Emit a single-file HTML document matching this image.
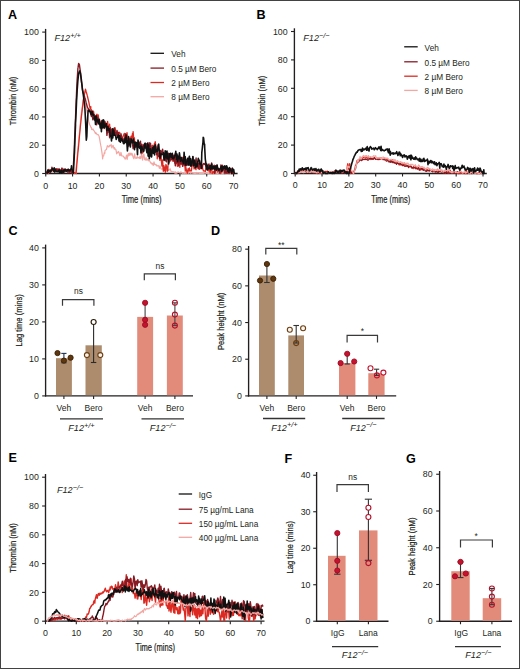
<!DOCTYPE html>
<html><head><meta charset="utf-8"><style>
html,body{margin:0;padding:0;background:#fff;}
body{width:520px;height:669px;overflow:hidden;font-family:"Liberation Sans", sans-serif;}
svg{display:block;}
</style></head><body>
<svg width="520" height="669" viewBox="0 0 520 669" font-family='"Liberation Sans", sans-serif'>
<rect x="0" y="0" width="520" height="669" fill="#fff"/>
<text x="8.0" y="18.6" font-size="12.6" text-anchor="start" font-weight="bold" font-style="normal" fill="#000" >A</text>
<line x1="45.6" y1="28.900000000000002" x2="45.6" y2="174.1" stroke="#231f20" stroke-width="1.35"/>
<line x1="42.2" y1="173.5" x2="45.6" y2="173.5" stroke="#231f20" stroke-width="1.1"/>
<text x="38.8" y="176.7" font-size="8.8" text-anchor="end" font-weight="normal" font-style="normal" fill="#231f20" >0</text>
<line x1="42.2" y1="145.22" x2="45.6" y2="145.22" stroke="#231f20" stroke-width="1.1"/>
<text x="38.8" y="148.42" font-size="8.8" text-anchor="end" font-weight="normal" font-style="normal" fill="#231f20" >20</text>
<line x1="42.2" y1="116.94" x2="45.6" y2="116.94" stroke="#231f20" stroke-width="1.1"/>
<text x="38.8" y="120.14" font-size="8.8" text-anchor="end" font-weight="normal" font-style="normal" fill="#231f20" >40</text>
<line x1="42.2" y1="88.66000000000001" x2="45.6" y2="88.66000000000001" stroke="#231f20" stroke-width="1.1"/>
<text x="38.8" y="91.86000000000001" font-size="8.8" text-anchor="end" font-weight="normal" font-style="normal" fill="#231f20" >60</text>
<line x1="42.2" y1="60.38000000000001" x2="45.6" y2="60.38000000000001" stroke="#231f20" stroke-width="1.1"/>
<text x="38.8" y="63.58000000000001" font-size="8.8" text-anchor="end" font-weight="normal" font-style="normal" fill="#231f20" >80</text>
<line x1="42.2" y1="32.099999999999994" x2="45.6" y2="32.099999999999994" stroke="#231f20" stroke-width="1.1"/>
<text x="38.8" y="35.3" font-size="8.8" text-anchor="end" font-weight="normal" font-style="normal" fill="#231f20" >100</text>
<line x1="45.0" y1="173.5" x2="237.6" y2="173.5" stroke="#231f20" stroke-width="1.3"/>
<line x1="45.75" y1="173.5" x2="45.75" y2="176.5" stroke="#231f20" stroke-width="1.1"/>
<text x="45.75" y="188.6" font-size="8.8" text-anchor="middle" font-weight="normal" font-style="normal" fill="#231f20" >0</text>
<line x1="72.58" y1="173.5" x2="72.58" y2="176.5" stroke="#231f20" stroke-width="1.1"/>
<text x="72.58" y="188.6" font-size="8.8" text-anchor="middle" font-weight="normal" font-style="normal" fill="#231f20" >10</text>
<line x1="99.41" y1="173.5" x2="99.41" y2="176.5" stroke="#231f20" stroke-width="1.1"/>
<text x="99.41" y="188.6" font-size="8.8" text-anchor="middle" font-weight="normal" font-style="normal" fill="#231f20" >20</text>
<line x1="126.24" y1="173.5" x2="126.24" y2="176.5" stroke="#231f20" stroke-width="1.1"/>
<text x="126.24" y="188.6" font-size="8.8" text-anchor="middle" font-weight="normal" font-style="normal" fill="#231f20" >30</text>
<line x1="153.07" y1="173.5" x2="153.07" y2="176.5" stroke="#231f20" stroke-width="1.1"/>
<text x="153.07" y="188.6" font-size="8.8" text-anchor="middle" font-weight="normal" font-style="normal" fill="#231f20" >40</text>
<line x1="179.89999999999998" y1="173.5" x2="179.89999999999998" y2="176.5" stroke="#231f20" stroke-width="1.1"/>
<text x="179.89999999999998" y="188.6" font-size="8.8" text-anchor="middle" font-weight="normal" font-style="normal" fill="#231f20" >50</text>
<line x1="206.73" y1="173.5" x2="206.73" y2="176.5" stroke="#231f20" stroke-width="1.1"/>
<text x="206.73" y="188.6" font-size="8.8" text-anchor="middle" font-weight="normal" font-style="normal" fill="#231f20" >60</text>
<line x1="233.56" y1="173.5" x2="233.56" y2="176.5" stroke="#231f20" stroke-width="1.1"/>
<text x="233.56" y="188.6" font-size="8.8" text-anchor="middle" font-weight="normal" font-style="normal" fill="#231f20" >70</text>
<text x="141.6" y="202.6" font-size="10.3" text-anchor="middle" textLength="39.8" lengthAdjust="spacingAndGlyphs" fill="#231f20" stroke="#231f20" stroke-width="0.22">Time (mins)</text>
<text transform="translate(15.9,101.0) rotate(-90)" x="0" y="0" font-size="9.60" text-anchor="middle" textLength="48.6" lengthAdjust="spacingAndGlyphs" fill="#231f20" stroke="#231f20" stroke-width="0.22">Thrombin (nM)</text>
<text x="54.5" y="41.3" font-size="9.1" font-style="italic" text-anchor="start" fill="#231f20">F12<tspan font-size="7.4" dy="-3.2">+/+</tspan></text>
<line x1="150.5" y1="53.3" x2="164" y2="53.3" stroke="#111111" stroke-width="1.3"/>
<text x="171.3" y="57.0" font-size="8.25" text-anchor="start" font-weight="normal" font-style="normal" fill="#231f20" >Veh</text>
<line x1="150.5" y1="68.1" x2="164" y2="68.1" stroke="#861b24" stroke-width="1.3"/>
<text x="171.3" y="71.8" font-size="8.25" text-anchor="start" font-weight="normal" font-style="normal" fill="#231f20" >0.5 µM Bero</text>
<line x1="150.5" y1="82.5" x2="164" y2="82.5" stroke="#dc2a22" stroke-width="1.3"/>
<text x="171.3" y="86.2" font-size="8.25" text-anchor="start" font-weight="normal" font-style="normal" fill="#231f20" >2 µM Bero</text>
<line x1="150.5" y1="96.7" x2="164" y2="96.7" stroke="#f3a7a3" stroke-width="1.3"/>
<text x="171.3" y="100.4" font-size="8.25" text-anchor="start" font-weight="normal" font-style="normal" fill="#231f20" >8 µM Bero</text>
<polyline points="46.6,173.5 47.2,171.2 47.9,170.6 48.4,171.9 48.6,171.7 49.2,171.7 49.9,170.4 50.6,170.9 51.3,169.9 51.9,172.4 52.6,168.7 53.3,170.2 53.8,169.3 53.9,170.1 54.6,170.4 55.3,169.6 55.9,169.3 56.6,170.4 57.3,170.4 58.0,169.7 58.6,171.2 59.3,171.9 60.0,170.1 60.6,171.2 61.3,172.4 61.8,171.4 62.0,171.1 62.7,171.7 63.3,172.0 64.0,170.6 64.7,169.9 65.3,170.9 66.0,171.3 66.7,170.4 67.3,170.1 68.0,170.9 68.7,170.2 69.4,169.8 69.9,170.8 70.0,171.4 70.7,170.8 71.4,171.3 72.0,171.0 72.7,173.1 73.4,173.0 73.9,173.4 74.1,173.5 74.7,172.9 75.4,172.9 76.1,173.5 76.3,172.5" fill="none" stroke="#f3a7a3" stroke-width="1.2" stroke-linejoin="round" opacity="1.0"/>
<polyline points="75.5,173.5 76.2,166.4 76.9,159.4 77.5,152.3 78.2,145.2 78.5,142.4 78.9,138.2 79.6,131.0 80.2,124.0 80.9,116.9 81.2,114.1 81.6,111.3 82.2,107.0 82.9,102.3 83.0,101.5 83.6,99.1 84.1,97.1 84.3,97.9 84.9,101.6 85.6,105.0 85.7,105.6 86.3,108.4 86.9,111.0 87.6,114.4 88.3,119.1 88.9,122.3 89.5,124.1 89.6,124.5 90.3,125.8 91.0,127.4 91.4,127.4 91.6,129.4 92.3,129.7 93.0,128.9 93.6,130.4 94.3,131.0 95.0,132.5 95.4,133.6 95.7,132.6 96.3,133.1 97.0,134.6 97.7,134.7 98.3,134.7 98.9,135.8 99.0,135.8 99.7,139.3 100.3,143.0 100.8,145.7 101.0,146.5 101.7,150.8 102.4,155.9 102.6,158.9 103.0,156.3 103.7,155.7 104.4,152.5 104.8,153.4 105.0,150.7 105.7,149.9 106.4,149.5 107.1,146.8 107.2,146.0 107.7,145.6 108.4,146.9 109.1,146.9 109.7,145.3 110.4,145.9 110.9,144.9 111.1,144.4 111.8,148.0 112.4,146.2 113.1,145.5 113.8,148.1 114.2,149.1 114.4,147.5 115.1,149.1 115.8,149.3 116.4,152.0 116.6,153.8 117.1,152.1 117.8,152.9 118.5,151.5 119.1,152.6 119.8,155.6 120.5,155.3 120.9,152.4 121.1,153.0 121.8,156.0 122.5,156.0 123.2,156.2 123.8,157.1 124.5,157.4 124.9,158.9 125.2,159.1 125.8,158.3 126.5,155.0 127.2,159.5 127.8,154.9 128.5,153.6 128.7,155.8 129.2,153.2 129.9,155.2 130.5,153.1 131.2,155.1 131.6,154.0 131.9,153.2 132.5,155.0 133.2,157.4 133.9,158.8 134.6,153.8 135.2,157.2 135.9,158.5 136.6,157.5 137.0,158.3 137.2,156.5 137.9,157.6 138.6,157.5 139.3,158.5 139.9,156.4 140.6,158.6 141.3,155.8 141.9,154.2 142.3,158.9 142.6,160.2 143.3,156.1 143.9,154.0 144.6,159.4 145.3,160.1 146.0,157.6 146.6,160.2 147.3,160.1 147.4,159.9 148.0,158.9 148.6,160.9 149.3,160.3 150.0,161.5 150.7,163.1 151.3,162.8 152.0,164.2 152.7,163.3 153.1,165.3 153.3,165.4 154.0,161.9 154.7,164.5 155.4,164.8 156.0,164.3 156.7,166.0 157.4,166.0 158.0,165.4 158.7,165.9 159.4,168.4 160.0,165.8 160.7,168.2 161.4,169.1 162.1,169.2 162.7,168.8 163.4,166.2 164.1,170.5 164.7,168.9 165.4,172.5 166.1,169.8 166.5,168.7 166.8,170.4 167.4,171.1 168.1,170.1 168.8,169.7 169.4,170.0 170.1,168.7 170.8,170.9 171.4,172.0 172.1,171.7 172.8,171.8 173.5,171.8 174.1,172.1 174.8,172.2 175.1,173.5 175.5,171.8 176.1,172.8 176.8,173.3 177.5,172.2 178.2,171.9 178.8,172.4 179.5,172.6 180.2,173.1 180.8,171.8 181.5,172.4 182.2,173.3 182.9,173.2 183.5,172.9 184.2,173.5 184.9,173.0 185.3,173.3 185.5,172.6 186.2,172.7 186.9,173.5 187.5,173.1 188.2,173.5 188.9,172.6 189.6,173.0 190.2,172.9 190.9,173.5 191.6,172.4 192.2,172.3 192.9,173.5 193.6,173.0 194.3,173.4 194.9,173.1 195.6,173.5 196.3,172.4 196.9,173.5 197.6,173.2 198.3,172.9 198.9,173.4 199.6,173.2 200.3,173.3 201.0,173.2 201.6,173.5 202.3,173.3 203.0,173.2 203.6,173.3 204.3,173.1 205.0,173.2 205.7,172.9 206.3,173.3 207.0,173.2 207.7,173.4 208.3,173.3 209.0,173.5 209.7,173.0 210.4,173.5 211.0,173.4 211.7,173.0 212.4,173.0 213.0,173.3 213.7,173.5 214.4,173.0 215.0,173.1 215.7,173.5 216.4,172.9 217.1,173.4 217.7,173.5 218.4,173.1 219.1,173.2 219.7,173.1 220.4,173.5 221.1,172.6 221.8,173.4 222.4,173.5 223.1,173.0 223.8,173.3 224.4,173.1 225.1,173.3 225.8,173.2 226.5,173.1 227.1,173.4 227.8,173.0 228.5,173.3 229.1,173.5 229.8,173.2 230.5,173.1 231.1,173.3 231.8,173.5 232.5,173.0 233.2,173.5 233.6,173.5" fill="none" stroke="#f3a7a3" stroke-width="1.2" stroke-linejoin="round" opacity="1.0"/>
<polyline points="46.6,173.3 47.2,173.3 47.9,172.5 48.4,173.5 48.6,169.3 49.2,169.9 49.9,171.4 50.6,169.9 51.3,170.3 51.9,171.1 52.6,169.2 53.3,170.5 53.9,170.3 54.6,170.6 55.3,169.1 55.9,169.5 56.5,168.6 56.6,170.0 57.3,169.3 58.0,170.7 58.6,168.9 59.3,169.8 60.0,169.8 60.6,169.9 61.3,171.7 61.8,169.8 62.0,168.3 62.7,172.5 63.3,172.6 64.0,172.4 64.7,169.7 65.3,170.5 66.0,169.5 66.7,169.9 67.3,170.4 68.0,170.4 68.7,170.9 69.4,169.7 69.9,171.9 70.0,171.2 70.7,170.8 71.4,169.4 72.0,172.7 72.7,173.3 73.4,173.0 73.9,172.2 74.1,173.0 74.7,172.8 75.4,173.3 76.1,173.5 76.1,173.5 76.7,165.9 77.4,158.3 77.9,152.3 78.1,150.9 78.8,143.8 79.4,136.7 80.1,129.7 80.6,124.0 80.8,122.8 81.4,116.8 82.1,110.8 82.8,104.8 83.3,100.0 83.4,99.3 84.1,95.9 84.8,92.5 85.5,89.1 85.5,89.1 86.1,91.5 86.8,93.8 87.3,95.7 87.5,96.3 88.1,99.1 88.8,101.8 89.5,105.6 90.2,108.6 90.8,106.6 90.8,109.4 91.5,109.9 92.2,112.5 92.8,114.4 93.5,111.2 94.0,114.4 94.2,116.2 94.8,115.3 95.5,118.0 96.2,115.9 96.9,114.2 97.5,120.0 98.2,114.8 98.9,120.9 99.5,119.5 100.2,122.8 100.9,121.9 101.6,121.9 102.1,123.7 102.2,124.6 102.9,125.1 103.6,126.1 104.2,128.7 104.9,125.8 105.6,124.6 106.3,123.8 106.9,125.1 107.6,121.5 108.3,127.2 108.9,129.8 109.6,124.1 110.1,132.5 110.3,127.1 110.9,132.7 111.6,129.5 112.3,136.2 113.0,128.7 113.6,131.9 114.3,134.5 115.0,127.6 115.6,130.4 116.3,132.8 117.0,135.3 117.7,133.7 118.3,134.4 119.0,132.3 119.7,132.4 120.3,136.9 120.9,136.9 121.0,136.9 121.7,139.6 122.3,137.8 123.0,136.7 123.7,134.8 124.4,133.4 125.0,139.8 125.7,136.3 126.4,139.5 127.0,132.6 127.7,139.1 128.4,137.8 128.9,142.3 129.1,141.8 129.7,138.1 130.4,139.0 131.1,136.1 131.7,140.9 132.4,133.7 132.7,138.0 133.1,131.6 133.8,139.7 134.4,137.8 134.8,146.5 135.1,141.3 135.8,145.5 136.4,144.7 137.1,143.6 137.8,145.0 138.4,143.7 139.1,142.6 139.8,143.2 140.5,145.8 141.1,150.0 141.8,148.8 142.3,147.2 142.5,153.1 143.1,144.6 143.8,147.7 144.5,148.0 145.2,144.5 145.8,145.5 146.5,147.1 147.2,151.0 147.7,147.1 147.8,147.0 148.5,151.0 149.2,145.4 149.9,147.2 150.5,155.1 151.2,148.9 151.7,153.4 151.9,145.7 152.5,145.3 153.2,149.8 153.9,147.7 154.4,143.5 154.5,145.0 155.2,141.6 155.9,146.2 156.6,151.5 157.1,150.5 157.2,158.8 157.9,153.0 158.6,152.8 159.2,157.4 159.9,160.4 160.6,157.9 161.1,154.8 161.3,160.5 161.9,166.0 162.6,159.8 163.3,171.3 163.9,165.7 164.6,170.5 165.1,167.2 165.3,172.3 165.9,164.5 166.6,166.4 167.3,171.1 167.8,170.8 168.0,165.7 168.6,159.8 169.3,162.1 170.0,161.0 170.6,160.8 171.3,156.7 171.9,156.8 172.0,157.2 172.7,161.2 173.3,155.3 174.0,155.1 174.7,163.2 175.3,153.5 176.0,158.1 176.7,161.9 177.4,166.3 178.0,159.3 178.7,160.0 179.4,163.6 179.9,167.3 180.0,159.1 180.7,164.3 181.4,164.3 182.0,157.2 182.7,157.7 183.4,161.4 184.1,165.6 184.7,162.9 185.3,171.1 185.4,165.0 186.1,168.6 186.7,171.2 187.4,173.3 188.1,168.7 188.8,171.1 188.8,170.9 189.4,167.8 190.1,171.0 190.8,170.7 191.4,170.8 192.0,165.9 192.1,163.0 192.8,165.7 193.4,163.8 194.1,168.9 194.8,167.2 195.5,168.3 196.0,169.7 196.1,161.5 196.8,164.0 197.5,168.1 198.1,167.9 198.8,166.0 199.5,169.4 200.2,164.4 200.8,168.7 201.5,166.2 202.2,167.7 202.4,166.2 202.8,169.1 203.5,171.0 204.2,170.8 204.9,171.3 205.4,171.4 205.5,170.5 206.2,166.6 206.9,168.1 207.5,170.5 208.2,167.9 208.9,171.1 209.4,165.7 209.5,168.0 210.2,172.8 210.9,167.8 211.6,167.9 212.2,173.5 212.9,172.0 213.6,171.5 214.2,173.5 214.8,173.2 214.9,172.9 215.6,169.6 216.3,170.2 216.9,165.8 217.6,172.0 218.3,168.5 218.9,171.0 219.6,170.7 220.1,173.5 220.3,173.5 220.9,173.0 221.6,169.4 222.3,167.5 223.0,169.6 223.6,169.8 224.3,172.7 225.0,167.3 225.5,167.7 225.6,171.9 226.3,171.0 227.0,173.3 227.7,168.0 228.3,170.5 229.0,171.8 229.7,170.9 230.3,171.0 231.0,173.0 231.7,173.5 232.4,173.5 233.0,173.5 233.6,171.8" fill="none" stroke="#dc2a22" stroke-width="1.3" stroke-linejoin="round" opacity="1.0"/>
<polyline points="46.6,171.2 47.2,173.5 47.9,171.0 48.4,171.3 48.6,171.1 49.2,170.7 49.9,172.6 50.6,170.4 51.3,170.9 51.9,167.3 52.6,169.3 53.3,169.8 53.8,169.6 53.9,170.0 54.6,170.7 55.3,170.1 55.9,169.3 56.6,170.3 57.3,169.1 58.0,170.6 58.6,170.5 59.2,168.9 59.3,170.0 60.0,171.1 60.6,170.7 61.3,169.8 62.0,168.1 62.7,170.5 63.3,170.4 64.0,168.9 64.5,171.0 64.7,170.3 65.3,169.1 66.0,169.5 66.7,170.1 67.3,169.6 68.0,172.9 68.7,169.4 69.4,171.7 69.9,172.6 70.0,170.4 70.7,170.4 71.4,172.0 72.0,173.1 72.3,172.1 72.7,173.2 72.8,172.7 73.4,165.0 73.9,156.5 74.1,153.4 74.7,137.4 75.0,131.1 75.4,120.5 76.1,102.8 76.1,102.8 76.7,88.7 77.1,80.2 77.4,76.2 77.9,68.2 78.1,67.2 78.6,63.5 78.8,63.7 79.4,64.6 79.4,64.6 80.1,69.7 80.4,71.7 80.8,75.4 81.4,81.6 81.4,81.6 82.1,86.5 82.8,91.5 82.8,91.5 83.4,93.4 84.1,95.4 84.8,97.3 84.9,97.7 85.5,99.8 86.1,102.4 86.8,105.0 87.3,107.0 87.5,107.3 88.1,108.5 88.8,109.5 89.5,109.8 90.2,111.4 90.8,114.6 91.4,116.4 91.5,116.5 92.2,111.1 92.8,119.8 93.5,118.1 94.2,118.0 94.8,117.1 95.5,116.8 96.2,122.8 96.7,124.7 96.9,119.9 97.5,117.2 98.2,119.2 98.9,121.5 99.5,123.8 100.2,122.7 100.9,125.0 101.6,122.7 102.2,128.1 102.9,126.1 103.2,127.2 103.6,125.5 104.2,126.9 104.9,121.5 105.6,124.0 106.3,124.4 106.9,135.4 107.6,130.8 108.3,132.0 108.9,129.0 109.6,137.7 110.3,128.0 110.9,128.8 111.6,136.3 112.3,135.8 112.8,135.6 113.0,133.2 113.6,131.8 114.3,127.9 115.0,135.2 115.6,132.7 116.3,135.0 117.0,130.5 117.7,134.0 118.3,132.5 119.0,140.5 119.7,138.2 120.3,140.5 121.0,133.8 121.7,136.8 122.3,140.3 122.8,141.0 123.0,138.2 123.7,142.1 124.4,143.1 125.0,139.0 125.7,133.8 126.4,141.8 127.0,143.0 127.7,145.3 128.4,146.1 129.1,140.4 129.7,139.7 130.4,142.6 131.1,141.8 131.7,142.8 132.4,143.0 133.1,148.6 133.8,145.4 134.4,143.9 135.1,147.0 135.1,146.1 135.8,147.4 136.4,146.1 137.1,142.5 137.8,146.9 138.4,146.3 139.1,143.4 139.8,144.2 140.5,141.1 141.1,153.7 141.8,144.3 142.5,149.0 143.1,147.2 143.8,145.2 144.5,144.6 145.2,145.0 145.8,148.2 146.5,143.6 147.2,150.2 147.7,149.9 147.8,146.8 148.5,151.6 149.2,142.7 149.9,146.8 150.5,143.1 151.2,150.8 151.9,152.2 152.5,150.6 153.2,148.9 153.9,153.6 154.5,150.5 155.2,152.1 155.9,146.8 156.6,154.7 157.2,149.2 157.9,155.1 158.6,156.4 159.2,155.8 159.9,157.6 160.0,153.2 160.6,150.5 161.3,153.6 161.9,152.3 162.6,149.2 163.3,154.0 163.9,154.5 164.6,156.3 165.3,160.9 165.9,153.3 166.6,161.9 167.3,154.2 168.0,156.6 168.6,153.1 169.3,157.3 170.0,160.0 170.6,156.3 171.3,159.6 171.9,158.5 172.0,157.8 172.7,158.6 173.3,158.9 174.0,161.2 174.7,159.3 175.3,165.8 176.0,159.6 176.7,163.1 177.4,155.8 178.0,155.5 178.7,166.0 179.4,159.5 180.0,160.5 180.7,163.6 181.4,158.8 182.0,162.1 182.7,166.4 183.4,161.8 184.1,161.6 184.7,161.0 185.3,165.4 185.4,159.6 186.1,159.4 186.7,165.5 187.4,164.2 188.1,162.5 188.8,164.3 189.4,157.2 190.1,162.2 190.8,166.2 191.4,165.7 192.1,163.6 192.8,156.8 193.4,164.4 194.1,163.6 194.8,162.6 195.5,164.5 196.1,157.9 196.8,166.4 197.5,162.7 197.6,164.5 198.1,163.3 198.8,168.8 199.5,160.2 200.2,166.0 200.8,165.7 201.5,168.6 202.2,168.2 202.8,164.6 203.5,163.6 204.2,164.4 204.9,163.3 205.5,164.8 206.2,166.9 206.7,164.8 206.9,165.5 207.5,167.6 208.2,165.4 208.9,164.0 209.5,167.0 210.2,168.7 210.9,165.9 211.6,162.9 212.2,168.7 212.9,168.5 213.6,168.7 214.2,165.3 214.8,173.3 214.9,167.6 215.6,165.6 216.3,170.8 216.9,165.1 217.6,167.6 218.3,170.4 218.9,168.6 219.6,173.0 220.3,170.7 220.9,164.9 221.6,171.6 222.3,165.1 223.0,169.8 223.6,167.4 224.3,169.7 225.0,173.5 225.5,171.3 225.6,169.5 226.3,172.8 227.0,173.3 227.7,169.5 228.3,171.9 229.0,173.5 229.7,172.2 230.3,168.9 231.0,172.0 231.7,169.0 232.4,167.9 233.0,171.2 233.6,173.5" fill="none" stroke="#861b24" stroke-width="1.4" stroke-linejoin="round" opacity="1.0"/>
<polyline points="46.6,173.5 47.1,172.8 47.7,170.1 48.3,170.2 48.4,172.3 48.9,170.6 49.5,171.1 50.1,170.3 50.7,172.0 51.3,170.1 51.9,170.0 52.5,168.6 53.0,169.8 53.6,169.5 53.8,171.4 54.2,167.9 54.8,172.1 55.4,169.3 56.0,170.9 56.6,171.6 57.2,171.5 57.8,171.7 58.4,170.8 59.0,171.4 59.2,169.9 59.5,173.1 60.1,171.3 60.7,172.1 61.3,170.3 61.9,173.1 62.5,171.3 63.1,170.7 63.7,172.3 64.3,169.7 64.5,170.5 64.9,169.6 65.4,169.6 66.0,171.4 66.6,171.2 67.2,170.5 67.8,169.5 68.4,169.3 69.0,170.8 69.6,170.6 69.9,170.8 70.2,170.2 70.8,169.1 71.3,168.2 71.5,165.8 71.9,169.5 72.5,170.8 72.6,170.2 73.1,172.6 73.4,173.1 73.7,166.8 74.3,155.4 74.5,152.3 74.9,141.0 75.5,125.4 75.5,124.0 76.1,112.0 76.6,100.0 76.7,99.1 77.2,89.8 77.7,83.0 77.8,81.4 78.4,75.7 78.6,73.8 79.0,72.6 79.6,71.0 79.6,71.1 80.2,72.7 80.4,73.1 80.8,75.9 81.4,79.8 81.4,80.2 82.0,85.1 82.5,90.1 82.6,90.4 83.2,94.1 83.7,97.9 83.8,98.6 84.3,103.0 84.9,108.5 84.9,108.5 85.5,119.9 85.7,124.0 86.1,135.3 86.3,140.1 86.7,137.4 86.8,136.7 87.3,124.0 87.3,122.6 87.9,114.3 88.1,110.2 88.5,110.5 89.1,111.2 89.6,110.6 90.2,111.7 90.8,113.6 91.4,114.4 91.4,114.6 92.0,111.3 92.6,113.1 93.2,115.3 93.8,114.6 94.4,119.9 95.0,117.1 95.5,124.5 96.1,115.8 96.7,120.9 96.7,120.5 97.3,119.7 97.9,122.4 98.5,123.8 99.1,119.4 99.7,123.7 100.3,127.9 100.9,123.7 101.4,131.8 102.0,120.6 102.6,127.6 103.2,127.4 103.2,119.8 103.8,120.4 104.4,127.9 105.0,126.5 105.6,125.3 106.2,123.5 106.8,130.4 107.4,129.8 107.9,126.3 108.5,130.1 109.1,128.8 109.7,129.7 110.3,136.3 110.9,135.7 111.5,141.0 112.1,134.4 112.7,128.9 112.8,137.9 113.3,129.7 113.8,131.0 114.4,135.3 115.0,135.5 115.6,135.6 116.2,139.5 116.8,137.8 117.4,137.3 118.0,135.3 118.6,135.1 119.2,141.2 119.7,135.8 120.3,142.2 120.9,140.3 121.5,138.7 122.1,140.6 122.7,141.4 122.8,140.0 123.3,143.2 123.9,143.8 124.5,142.3 125.1,138.1 125.6,142.4 126.2,135.0 126.8,141.6 127.4,151.0 128.0,144.5 128.6,136.6 129.2,143.2 129.8,145.1 130.4,147.0 131.0,138.7 131.6,140.1 132.1,141.6 132.7,142.8 133.3,139.0 133.9,141.6 134.5,149.8 135.1,142.2 135.1,144.6 135.7,145.8 136.3,142.6 136.9,145.7 137.5,154.6 138.0,140.1 138.6,142.3 139.2,147.1 139.8,148.3 140.4,146.1 141.0,152.3 141.6,146.2 142.2,148.5 142.8,149.2 143.4,151.7 143.9,150.9 144.5,144.0 145.1,143.2 145.7,146.8 146.3,149.2 146.9,152.7 147.5,146.5 147.7,143.0 148.1,156.1 148.7,145.0 149.3,158.7 149.9,151.5 150.4,148.8 151.0,156.1 151.6,156.9 152.2,150.1 152.8,147.5 153.4,153.2 154.0,146.0 154.6,154.9 155.2,144.7 155.8,151.6 156.3,151.3 156.9,149.9 157.5,151.3 158.1,145.3 158.7,144.1 159.3,151.0 159.9,154.0 160.0,158.2 160.5,156.6 161.1,153.8 161.7,154.4 162.2,154.4 162.8,154.5 163.4,152.7 164.0,160.3 164.6,159.2 165.2,150.9 165.8,152.3 166.4,158.0 167.0,151.0 167.6,159.0 168.1,157.5 168.7,163.9 169.3,153.7 169.9,157.2 170.5,153.2 171.1,154.9 171.7,157.5 171.9,157.3 172.3,153.4 172.9,158.8 173.5,158.8 174.1,158.1 174.6,155.4 175.2,155.0 175.8,151.3 176.4,159.1 177.0,154.1 177.6,161.6 178.2,156.8 178.8,158.8 179.4,152.8 180.0,157.2 180.5,161.3 181.1,157.5 181.7,158.5 182.3,161.2 182.9,161.2 183.5,163.8 184.1,152.2 184.7,160.0 185.3,156.9 185.3,165.0 185.9,164.9 186.4,161.5 187.0,161.7 187.6,158.3 188.2,165.2 188.8,159.7 189.4,156.2 190.0,165.4 190.6,158.9 191.2,166.0 191.8,161.3 192.3,161.4 192.9,156.6 193.5,165.7 194.1,162.7 194.7,160.0 195.3,167.6 195.9,163.9 196.5,166.8 197.1,166.3 197.6,162.5 197.7,162.4 198.3,158.4 198.8,160.5 199.4,160.8 200.0,164.2 200.6,164.4 201.2,163.2 201.4,168.3 201.8,152.6 202.4,147.5 202.4,147.4 203.0,142.1 203.2,137.3 203.6,138.0 204.2,144.0 204.6,144.2 204.7,147.8 205.3,159.1 205.7,161.8 205.9,163.1 206.5,168.8 206.7,164.0 207.1,169.8 207.7,166.0 208.3,168.9 208.9,168.5 209.5,168.3 210.1,165.5 210.6,169.7 211.2,167.6 211.8,164.0 212.4,168.9 213.0,167.6 213.6,166.2 214.2,168.9 214.8,166.8 214.8,169.2 215.4,166.4 216.0,167.8 216.5,170.0 217.1,165.1 217.7,168.4 218.3,168.9 218.9,170.3 219.5,169.4 220.1,168.7 220.7,168.2 221.3,166.3 221.9,171.5 222.5,169.6 223.0,166.4 223.6,168.6 224.2,168.2 224.8,165.8 225.4,168.5 225.5,168.2 226.0,169.4 226.6,165.7 227.2,167.3 227.8,171.2 228.4,168.6 228.9,172.3 229.5,167.6 230.1,168.6 230.7,170.5 231.3,171.1 231.9,173.5 232.5,168.8 233.1,170.8 233.6,171.3 233.7,169.5 234.3,173.5 234.4,173.5" fill="none" stroke="#111111" stroke-width="1.6" stroke-linejoin="round" opacity="1.0"/>
<text x="256.6" y="18.75" font-size="12.6" text-anchor="start" font-weight="bold" font-style="normal" fill="#000" >B</text>
<line x1="294.4" y1="28.3" x2="294.4" y2="174.1" stroke="#231f20" stroke-width="1.35"/>
<line x1="291.0" y1="173.5" x2="294.4" y2="173.5" stroke="#231f20" stroke-width="1.1"/>
<text x="287.6" y="176.7" font-size="8.8" text-anchor="end" font-weight="normal" font-style="normal" fill="#231f20" >0</text>
<line x1="291.0" y1="145.1" x2="294.4" y2="145.1" stroke="#231f20" stroke-width="1.1"/>
<text x="287.6" y="148.29999999999998" font-size="8.8" text-anchor="end" font-weight="normal" font-style="normal" fill="#231f20" >20</text>
<line x1="291.0" y1="116.7" x2="294.4" y2="116.7" stroke="#231f20" stroke-width="1.1"/>
<text x="287.6" y="119.9" font-size="8.8" text-anchor="end" font-weight="normal" font-style="normal" fill="#231f20" >40</text>
<line x1="291.0" y1="88.30000000000001" x2="294.4" y2="88.30000000000001" stroke="#231f20" stroke-width="1.1"/>
<text x="287.6" y="91.50000000000001" font-size="8.8" text-anchor="end" font-weight="normal" font-style="normal" fill="#231f20" >60</text>
<line x1="291.0" y1="59.900000000000006" x2="294.4" y2="59.900000000000006" stroke="#231f20" stroke-width="1.1"/>
<text x="287.6" y="63.10000000000001" font-size="8.8" text-anchor="end" font-weight="normal" font-style="normal" fill="#231f20" >80</text>
<line x1="291.0" y1="31.5" x2="294.4" y2="31.5" stroke="#231f20" stroke-width="1.1"/>
<text x="287.6" y="34.7" font-size="8.8" text-anchor="end" font-weight="normal" font-style="normal" fill="#231f20" >100</text>
<line x1="293.79999999999995" y1="173.5" x2="486.8" y2="173.5" stroke="#231f20" stroke-width="1.3"/>
<line x1="295.2" y1="173.5" x2="295.2" y2="176.5" stroke="#231f20" stroke-width="1.1"/>
<text x="295.2" y="188.4" font-size="8.8" text-anchor="middle" font-weight="normal" font-style="normal" fill="#231f20" >0</text>
<line x1="322.03" y1="173.5" x2="322.03" y2="176.5" stroke="#231f20" stroke-width="1.1"/>
<text x="322.03" y="188.4" font-size="8.8" text-anchor="middle" font-weight="normal" font-style="normal" fill="#231f20" >10</text>
<line x1="348.86" y1="173.5" x2="348.86" y2="176.5" stroke="#231f20" stroke-width="1.1"/>
<text x="348.86" y="188.4" font-size="8.8" text-anchor="middle" font-weight="normal" font-style="normal" fill="#231f20" >20</text>
<line x1="375.69" y1="173.5" x2="375.69" y2="176.5" stroke="#231f20" stroke-width="1.1"/>
<text x="375.69" y="188.4" font-size="8.8" text-anchor="middle" font-weight="normal" font-style="normal" fill="#231f20" >30</text>
<line x1="402.52" y1="173.5" x2="402.52" y2="176.5" stroke="#231f20" stroke-width="1.1"/>
<text x="402.52" y="188.4" font-size="8.8" text-anchor="middle" font-weight="normal" font-style="normal" fill="#231f20" >40</text>
<line x1="429.34999999999997" y1="173.5" x2="429.34999999999997" y2="176.5" stroke="#231f20" stroke-width="1.1"/>
<text x="429.34999999999997" y="188.4" font-size="8.8" text-anchor="middle" font-weight="normal" font-style="normal" fill="#231f20" >50</text>
<line x1="456.17999999999995" y1="173.5" x2="456.17999999999995" y2="176.5" stroke="#231f20" stroke-width="1.1"/>
<text x="456.17999999999995" y="188.4" font-size="8.8" text-anchor="middle" font-weight="normal" font-style="normal" fill="#231f20" >60</text>
<line x1="483.01" y1="173.5" x2="483.01" y2="176.5" stroke="#231f20" stroke-width="1.1"/>
<text x="483.01" y="188.4" font-size="8.8" text-anchor="middle" font-weight="normal" font-style="normal" fill="#231f20" >70</text>
<text x="390.7" y="202.8" font-size="10.3" text-anchor="middle" textLength="39.0" lengthAdjust="spacingAndGlyphs" fill="#231f20" stroke="#231f20" stroke-width="0.22">Time (mins)</text>
<text transform="translate(265.2,100.7) rotate(-90)" x="0" y="0" font-size="9.20" text-anchor="middle" textLength="50.0" lengthAdjust="spacingAndGlyphs" fill="#231f20" stroke="#231f20" stroke-width="0.22">Thrombin (nM)</text>
<text x="303.3" y="41.3" font-size="9.1" font-style="italic" text-anchor="start" fill="#231f20">F12<tspan font-size="7.4" dy="-3.2">−/−</tspan></text>
<line x1="404.2" y1="46.8" x2="417.7" y2="46.8" stroke="#111111" stroke-width="1.3"/>
<text x="424.6" y="50.5" font-size="8.25" text-anchor="start" font-weight="normal" font-style="normal" fill="#231f20" >Veh</text>
<line x1="404.2" y1="61.8" x2="417.7" y2="61.8" stroke="#861b24" stroke-width="1.3"/>
<text x="424.6" y="65.5" font-size="8.25" text-anchor="start" font-weight="normal" font-style="normal" fill="#231f20" >0.5 µM Bero</text>
<line x1="404.2" y1="76.2" x2="417.7" y2="76.2" stroke="#dc2a22" stroke-width="1.3"/>
<text x="424.6" y="79.9" font-size="8.25" text-anchor="start" font-weight="normal" font-style="normal" fill="#231f20" >2 µM Bero</text>
<line x1="404.2" y1="90.4" x2="417.7" y2="90.4" stroke="#f3a7a3" stroke-width="1.3"/>
<text x="424.6" y="94.10000000000001" font-size="8.25" text-anchor="start" font-weight="normal" font-style="normal" fill="#231f20" >8 µM Bero</text>
<polyline points="295.2,173.5 295.9,173.5 296.5,173.5 297.2,172.9 297.9,171.0 298.6,173.0 299.2,171.0 299.9,170.6 300.6,171.6 301.2,171.7 301.9,170.7 302.6,170.0 303.2,169.1 303.9,170.1 304.6,169.7 305.3,171.3 305.9,171.6 306.6,172.4 307.3,172.0 307.9,171.5 308.6,171.2 309.3,172.4 310.0,170.9 310.6,171.6 311.3,172.1 312.0,172.2 312.6,170.2 313.3,171.7 314.0,172.5 314.7,172.6 315.3,170.6 316.0,172.4 316.7,171.2 317.3,171.1 318.0,173.5 318.7,171.3 319.3,172.6 320.0,173.3 320.7,173.0 321.4,172.3 322.0,172.5 322.7,172.5 323.4,173.3 324.0,171.8 324.7,171.7 325.4,171.4 326.1,172.0 326.7,171.4 327.4,171.2 328.1,172.2 328.7,171.9 329.4,172.1 330.1,172.0 330.7,171.7 331.4,173.5 332.1,172.4 332.8,171.7 333.4,173.5 334.1,173.0 334.8,170.6 335.4,172.5 336.1,172.0 336.8,171.3 337.5,171.8 338.1,172.0 338.8,171.9 339.5,171.9 340.1,172.1 340.8,171.6 341.5,170.6 342.2,171.6 342.8,170.7 343.5,171.5 344.2,171.1 344.8,171.0 345.5,171.4 346.2,170.6 346.7,170.4 346.8,170.7 347.5,165.3 347.8,163.8 348.2,165.8 348.9,169.7 349.5,167.4 349.7,163.8 350.2,168.6 350.7,173.5 350.9,171.6 351.5,173.0 352.2,172.2 352.9,173.2 353.6,172.5 353.7,173.3 354.2,171.2 354.9,168.8 355.6,165.4 356.2,165.1 356.9,160.8 357.6,160.4 358.3,160.7 358.9,159.6 359.6,159.2 360.3,158.7 360.9,157.9 361.6,159.1 362.3,157.8 362.9,157.6 363.6,157.7 364.3,156.9 365.0,158.1 365.6,157.5 366.3,156.2 367.0,158.0 367.6,158.2 368.3,158.1 369.0,157.6 369.7,158.6 370.3,158.3 371.0,159.5 371.7,159.0 372.3,159.0 373.0,159.1 373.7,158.5 374.3,157.6 375.0,158.5 375.7,159.3 376.4,158.0 377.0,158.1 377.7,159.5 378.4,158.3 379.0,159.4 379.7,159.0 380.4,159.2 381.1,157.9 381.7,159.4 382.4,159.0 383.1,158.7 383.7,158.0 384.4,158.1 385.1,160.2 385.8,158.5 386.4,159.5 387.1,159.0 387.8,159.3 388.4,160.9 389.1,160.6 389.8,161.1 390.2,160.7 390.4,159.7 391.1,161.2 391.8,162.0 392.5,159.7 393.1,162.6 393.8,162.0 394.5,162.2 395.1,163.4 395.8,161.8 396.5,161.8 397.2,162.9 397.8,163.0 398.5,163.3 399.2,164.9 399.8,163.3 400.5,164.8 401.2,164.7 401.8,163.7 402.5,163.5 403.2,165.2 403.9,163.6 404.5,163.2 405.2,164.8 405.9,165.2 406.5,165.1 407.2,165.8 407.9,166.4 408.6,165.3 409.2,165.4 409.9,166.6 410.6,166.7 411.2,167.1 411.9,167.3 412.6,167.7 413.3,168.4 413.9,166.4 414.6,167.7 415.1,167.5 415.3,166.0 415.9,168.1 416.6,167.3 417.3,169.2 417.9,168.7 418.6,167.6 419.3,168.6 420.0,169.8 420.6,170.0 421.3,168.5 422.0,169.7 422.6,168.4 423.3,168.9 424.0,169.6 424.7,169.5 425.3,168.9 426.0,169.7 426.7,170.7 427.3,169.7 428.0,170.4 428.7,170.5 429.3,169.9 430.0,170.2 430.7,169.6 431.4,170.8 432.0,171.1 432.7,171.1 433.4,170.5 434.0,171.7 434.7,171.4 435.4,171.9 436.1,171.9 436.7,171.5 437.4,169.3 438.1,171.8 438.7,171.3 439.4,171.6 439.5,171.8 440.1,171.7 440.8,169.9 441.4,172.0 442.1,170.4 442.8,171.3 443.4,172.7 444.1,172.5 444.8,172.4 445.4,173.0 446.1,171.0 446.8,171.7 447.5,171.7 448.1,173.1 448.8,171.8 449.5,172.8 450.1,170.2 450.8,172.4 451.5,172.1 452.2,172.1 452.8,172.9 453.5,172.9 454.2,172.9 454.8,171.8 455.5,173.3 456.2,172.8 456.9,172.4 457.5,173.1 458.2,173.5 458.9,173.5 459.5,173.2 460.2,173.5 460.9,172.0 461.5,172.9 462.2,173.0 462.9,173.5 463.6,172.6 464.2,173.4 464.9,173.5 465.6,173.5 466.2,171.0 466.9,173.5 467.6,173.5 468.3,172.1 468.9,172.5 469.6,173.5 470.3,171.9 470.9,173.5 471.6,173.5 472.3,173.5 472.9,172.0 473.6,173.3 474.3,171.1 475.0,172.9 475.6,172.9 476.3,173.5 477.0,173.5 477.6,173.5 478.3,172.6 479.0,173.5 479.7,173.5 480.3,172.7 481.0,172.6 481.7,173.5 482.3,173.1 483.0,172.5" fill="none" stroke="#dc2a22" stroke-width="1.4" stroke-linejoin="round" opacity="1.0"/>
<polyline points="295.2,173.2 295.9,173.0 296.5,172.8 297.2,173.5 297.9,171.8 298.6,173.1 299.2,171.2 299.9,171.2 300.6,170.9 301.2,170.7 301.9,170.8 302.6,171.1 303.2,170.8 303.9,169.9 304.6,171.1 305.3,171.0 305.9,171.3 306.6,171.3 307.3,171.2 307.9,170.9 308.6,171.3 309.3,171.4 310.0,171.6 310.6,171.3 311.3,172.1 312.0,171.4 312.6,170.8 313.3,172.1 314.0,171.8 314.7,170.5 315.3,172.5 316.0,172.9 316.7,172.3 317.3,171.1 318.0,171.1 318.7,173.1 319.3,172.1 320.0,172.5 320.7,173.0 321.4,173.5 322.0,172.2 322.7,173.3 323.4,172.5 324.0,172.6 324.7,171.5 325.4,171.9 326.1,173.2 326.7,172.6 327.4,171.8 328.1,173.2 328.7,172.6 329.4,172.2 330.1,173.2 330.7,172.9 331.4,173.2 332.1,172.0 332.8,172.4 333.4,171.5 334.1,172.0 334.8,171.7 335.4,172.1 336.1,171.6 336.8,172.1 337.5,172.7 338.1,171.4 338.8,171.5 339.5,170.8 340.1,172.2 340.8,172.4 341.5,173.0 342.2,173.4 342.8,172.9 343.5,171.8 344.2,172.5 344.8,173.1 345.5,171.3 346.2,171.9 346.8,171.6 347.0,171.6 347.5,171.6 348.2,171.5 348.9,173.0 349.5,172.3 350.2,172.7 350.9,171.9 351.5,173.5 352.2,172.0 352.9,172.9 353.6,172.5 353.7,173.5 354.2,171.4 354.9,169.6 355.6,168.7 356.2,165.5 356.9,163.1 357.6,162.7 358.3,161.9 358.9,161.6 359.6,160.3 360.3,159.7 360.9,160.3 361.6,160.7 362.3,159.0 362.9,159.8 363.6,159.5 364.3,159.5 365.0,159.6 365.6,158.9 366.3,159.6 367.0,159.2 367.6,160.1 368.3,160.2 369.0,159.4 369.7,157.9 370.3,159.0 371.0,157.9 371.7,158.8 372.3,158.7 373.0,159.3 373.7,159.0 374.3,157.8 375.0,158.2 375.7,159.3 376.4,159.2 377.0,158.2 377.7,159.4 378.4,158.5 379.0,159.7 379.7,158.8 380.4,158.3 381.1,158.8 381.7,159.3 382.4,159.4 383.1,159.6 383.7,159.6 384.4,159.0 385.1,159.3 385.8,159.9 386.4,161.2 387.1,161.0 387.8,160.6 388.4,161.0 389.1,162.1 389.8,161.0 390.2,160.2 390.4,162.4 391.1,161.8 391.8,160.9 392.5,162.4 393.1,162.6 393.8,162.4 394.5,162.3 395.1,163.1 395.8,162.4 396.5,164.4 397.2,162.9 397.8,163.3 398.5,163.8 399.2,163.6 399.8,164.0 400.5,163.3 401.2,164.7 401.8,164.6 402.5,165.6 403.2,165.6 403.9,165.2 404.5,166.3 405.2,166.0 405.9,166.5 406.5,166.1 407.2,165.9 407.9,165.5 408.6,167.6 409.2,166.6 409.9,166.1 410.6,166.0 411.2,166.1 411.9,168.2 412.6,167.8 413.3,167.2 413.9,167.2 414.6,167.8 415.1,167.9 415.3,168.0 415.9,168.8 416.6,168.3 417.3,168.0 417.9,168.8 418.6,168.0 419.3,170.3 420.0,169.2 420.6,168.0 421.3,168.6 422.0,168.4 422.6,169.4 423.3,170.4 424.0,170.0 424.7,168.8 425.3,171.2 426.0,170.7 426.7,171.3 427.3,170.7 428.0,170.7 428.7,170.2 429.3,171.2 430.0,169.6 430.7,170.4 431.4,171.2 432.0,171.6 432.7,172.0 433.4,171.0 434.0,169.8 434.7,171.3 435.4,172.0 436.1,171.4 436.7,171.8 437.4,172.1 438.1,172.9 438.7,171.7 439.4,170.7 440.1,171.0 440.8,171.2 441.4,171.8 442.1,171.7 442.8,171.4 443.4,172.1 444.1,172.0 444.8,172.5 445.4,171.4 446.1,172.9 446.8,171.8 447.5,171.7 448.1,171.8 448.8,171.9 449.5,172.7 450.1,172.8 450.8,172.8 451.5,172.8 452.2,173.3 452.8,172.9 453.5,173.1 454.2,173.3 454.8,172.5 455.5,173.3 456.2,172.6 456.9,171.8 457.5,171.6 458.2,172.8 458.9,172.1 459.5,172.7 460.2,171.4 460.9,171.8 461.5,172.1 462.2,173.0 462.9,173.1 463.6,172.6 464.2,173.0 464.9,173.2 465.6,172.5 466.2,173.5 466.9,173.5 467.6,173.5 468.3,173.5 468.9,173.2 469.6,173.5 470.3,173.3 470.9,173.5 471.6,172.2 472.3,172.9 472.9,173.5 473.6,173.0 474.3,172.4 475.0,172.7 475.6,173.4 476.3,172.9 477.0,172.7 477.6,173.5 478.3,173.5 479.0,173.5 479.7,172.7 480.3,172.4 481.0,173.3 481.7,172.4 482.3,172.8 483.0,173.5" fill="none" stroke="#861b24" stroke-width="1.2" stroke-linejoin="round" opacity="1.0"/>
<polyline points="295.2,173.2 295.9,172.1 296.5,173.5 297.2,171.2 297.9,172.1 298.6,172.6 299.2,172.5 299.9,172.6 300.6,171.9 301.2,171.0 301.9,171.1 302.6,171.0 303.2,172.6 303.9,172.5 304.6,170.3 305.3,170.8 305.9,169.9 306.6,170.7 307.3,172.3 307.9,170.7 308.6,171.2 309.3,171.5 310.0,172.3 310.6,171.8 311.3,171.9 312.0,171.2 312.6,171.8 313.3,170.8 314.0,172.5 314.7,171.6 315.3,171.6 316.0,172.7 316.7,172.9 317.3,171.4 318.0,171.8 318.7,172.3 319.3,172.0 320.0,172.8 320.7,172.2 321.4,172.8 322.0,172.3 322.7,171.8 323.4,172.8 324.0,171.9 324.7,173.4 325.4,172.9 326.1,173.5 326.7,172.8 327.4,172.7 328.1,172.8 328.7,172.8 329.4,171.5 330.1,171.4 330.7,173.2 331.4,171.4 332.1,173.4 332.8,172.6 333.4,172.1 334.1,171.8 334.8,172.6 335.4,172.3 336.1,171.6 336.8,172.1 337.5,171.9 338.1,170.9 338.8,170.6 339.5,171.3 340.1,171.2 340.8,171.2 341.5,171.4 342.2,171.4 342.8,171.8 343.5,170.4 344.2,170.9 344.8,170.9 345.5,170.6 346.2,170.3 346.7,169.6 346.8,170.3 347.5,167.8 347.8,166.2 348.2,167.3 348.9,166.3 349.5,167.0 349.7,167.3 350.2,168.7 350.9,169.0 351.5,169.7 352.2,171.0 352.9,172.6 353.6,173.5 353.7,172.8 354.2,172.0 354.9,170.1 355.6,166.6 355.8,166.1 356.2,166.1 356.9,162.7 357.4,160.9 357.6,159.8 358.3,161.2 358.9,159.3 359.6,158.3 360.1,156.5 360.3,158.4 360.9,159.1 361.6,158.3 362.3,156.9 362.9,156.3 363.6,155.5 364.3,156.3 365.0,157.1 365.6,155.8 366.3,156.5 367.0,156.7 367.6,156.5 368.3,155.6 369.0,157.3 369.7,157.4 370.3,156.7 371.0,156.7 371.7,157.3 372.3,157.3 373.0,156.4 373.7,155.7 374.3,156.2 375.0,156.2 375.7,155.8 376.4,158.4 377.0,158.1 377.7,157.6 378.4,158.1 379.0,158.1 379.7,157.4 380.4,158.5 381.1,158.0 381.7,159.4 382.4,158.6 383.1,156.9 383.7,158.5 384.4,158.0 385.1,157.8 385.8,158.8 386.4,158.1 387.1,158.5 387.8,158.2 388.4,159.4 389.1,160.1 389.8,160.0 390.4,159.8 391.1,159.2 391.8,159.9 392.5,160.3 393.1,160.3 393.8,159.5 394.5,161.0 395.1,159.6 395.8,161.9 396.5,161.6 397.2,160.6 397.8,161.1 398.5,162.4 399.2,162.0 399.8,162.6 400.5,161.6 401.2,162.0 401.8,163.2 402.5,162.5 403.2,163.3 403.9,163.2 404.5,163.2 405.2,163.9 405.9,163.2 406.5,163.3 407.2,163.5 407.9,163.1 408.6,164.3 409.2,165.5 409.9,164.8 410.6,164.4 411.2,164.7 411.9,164.4 412.6,164.3 413.3,165.2 413.9,165.4 414.6,166.2 415.3,164.7 415.9,165.9 416.6,166.7 417.3,166.9 417.9,166.5 418.6,165.0 419.3,165.8 420.0,167.9 420.6,166.8 421.3,166.7 422.0,166.5 422.6,166.9 423.3,167.8 424.0,167.1 424.7,168.1 425.3,169.6 426.0,168.5 426.7,168.6 427.3,167.5 428.0,167.5 428.7,169.4 429.3,168.5 430.0,168.7 430.7,170.0 431.4,170.6 432.0,169.1 432.7,169.0 433.4,169.7 434.0,171.1 434.7,169.4 435.4,169.9 436.1,170.3 436.7,169.9 437.4,170.6 438.1,169.3 438.7,169.9 439.4,170.4 440.1,169.8 440.8,170.1 441.4,171.5 442.1,170.4 442.8,170.8 443.4,171.9 444.1,171.1 444.8,170.3 445.4,171.2 446.1,169.6 446.8,169.4 447.5,171.2 448.1,170.5 448.8,169.4 449.5,171.4 450.1,172.0 450.8,171.7 451.5,172.5 452.2,172.6 452.8,171.4 453.5,172.0 454.2,171.5 454.8,171.4 455.5,172.5 456.2,172.1 456.9,172.2 457.5,172.6 458.2,172.7 458.9,171.8 459.5,172.2 460.2,171.8 460.9,171.3 461.5,171.3 462.2,173.1 462.9,172.9 463.6,172.5 464.2,172.2 464.9,171.5 465.6,173.1 466.2,172.7 466.9,172.2 467.6,171.4 468.3,171.3 468.9,173.3 469.6,172.7 470.3,173.2 470.9,171.8 471.6,172.2 472.3,172.9 472.9,173.2 473.6,172.4 474.3,171.9 475.0,173.4 475.6,173.0 476.3,172.7 477.0,172.8 477.6,172.6 478.3,173.5 479.0,173.4 479.7,173.5 480.3,172.9 481.0,172.1 481.7,173.5 482.3,173.5 483.0,172.3" fill="none" stroke="#f3a7a3" stroke-width="1.3" stroke-linejoin="round" opacity="1.0"/>
<polyline points="295.2,172.3 295.8,172.9 296.4,173.5 296.8,172.9 297.0,172.9 297.6,172.1 298.2,170.7 298.7,171.6 299.2,169.1 299.3,170.9 299.9,170.0 300.5,168.9 301.1,169.0 301.7,170.0 302.3,167.8 302.9,168.8 303.5,169.8 304.1,168.8 304.6,169.5 305.2,168.3 305.7,169.7 305.8,168.1 306.4,170.1 307.0,167.8 307.6,168.5 308.2,167.7 308.8,169.5 309.4,170.8 310.0,170.2 310.5,169.4 311.1,167.5 311.3,168.8 311.7,168.2 312.3,170.1 312.9,169.9 313.5,169.8 314.1,168.6 314.7,170.2 315.3,170.0 315.9,168.5 316.4,170.7 316.7,170.0 317.0,171.1 317.6,170.3 318.2,169.4 318.8,169.2 319.4,171.5 320.0,172.2 320.6,169.9 321.2,169.0 321.8,171.1 322.4,170.4 322.8,170.6 322.9,172.6 323.5,173.3 324.1,172.2 324.7,172.4 325.3,173.5 325.9,173.1 326.5,173.5 327.1,173.5 327.7,173.5 328.3,171.8 328.8,172.8 329.4,173.0 330.0,173.2 330.6,172.5 331.2,173.2 331.8,172.7 332.4,173.5 333.0,172.5 333.6,173.1 334.1,172.3 334.2,173.5 334.7,173.0 335.3,172.9 335.9,170.0 336.5,171.4 336.8,170.8 337.1,172.2 337.7,171.7 338.3,172.4 338.9,171.2 339.5,172.0 340.1,170.0 340.7,172.2 340.8,170.6 341.2,171.3 341.8,170.5 342.4,171.4 343.0,170.3 343.5,170.2 343.6,170.8 344.2,170.1 344.8,172.3 345.4,171.7 346.0,172.2 346.2,172.1 346.6,173.4 347.1,172.2 347.7,173.5 348.3,173.5 348.9,173.5 349.4,172.4 349.5,171.5 350.1,168.9 350.7,168.2 351.0,166.2 351.3,165.2 351.9,163.0 352.3,161.7 352.5,161.3 353.0,159.3 353.6,158.1 354.2,156.4 354.8,155.4 355.4,154.2 356.0,152.8 356.1,153.3 356.6,152.1 357.2,152.3 357.8,150.8 358.3,150.5 358.4,150.0 358.9,150.0 359.5,149.8 360.1,149.6 360.7,149.5 361.3,151.5 361.9,149.2 362.3,151.2 362.5,148.1 363.1,150.2 363.7,149.2 364.3,149.7 364.9,148.9 365.4,148.7 366.0,148.1 366.6,150.3 367.2,146.6 367.8,149.9 368.4,148.6 369.0,151.0 369.6,147.8 370.2,146.8 370.3,146.5 370.8,147.4 371.3,147.5 371.9,149.1 372.5,148.8 373.1,148.5 373.7,148.1 374.3,149.8 374.9,148.9 375.5,147.7 376.1,148.3 376.7,148.7 377.2,149.6 377.8,148.2 378.4,148.4 379.0,146.7 379.6,148.7 380.2,147.4 380.8,150.5 381.1,146.4 381.4,150.7 382.0,149.3 382.6,149.9 383.1,150.4 383.7,150.3 384.3,150.8 384.9,150.2 385.5,150.2 386.1,149.3 386.7,149.4 387.3,148.9 387.9,150.9 388.5,152.8 389.1,148.8 389.6,151.4 390.2,155.2 390.2,151.4 390.8,152.7 391.4,153.6 392.0,153.6 392.6,152.9 393.2,154.2 393.8,152.9 394.4,153.6 395.0,153.7 395.5,153.0 396.1,153.3 396.7,151.7 397.3,153.4 397.9,155.5 398.5,154.3 399.1,152.1 399.7,152.2 400.3,155.8 400.9,153.9 401.4,155.6 402.0,155.4 402.5,157.3 402.6,157.4 403.2,155.7 403.8,155.1 404.4,154.9 405.0,156.9 405.6,156.1 406.2,155.8 406.8,156.3 407.3,159.1 407.9,157.8 408.5,156.3 409.1,155.8 409.7,158.0 410.3,155.4 410.9,159.8 411.5,155.3 412.1,158.2 412.7,157.3 413.3,158.7 413.8,159.2 414.4,158.1 415.0,157.7 415.1,159.4 415.6,156.8 416.2,158.8 416.8,158.2 417.4,159.6 418.0,159.7 418.6,159.0 419.2,161.1 419.7,158.4 420.3,161.4 420.9,159.2 421.5,161.5 422.1,160.4 422.7,161.3 423.3,158.8 423.9,158.3 424.5,161.5 425.1,160.4 425.6,160.9 426.2,160.4 426.8,160.1 427.4,159.2 427.7,161.8 428.0,164.6 428.6,161.2 429.2,162.9 429.8,162.7 430.4,160.8 431.0,160.5 431.6,162.8 432.1,161.2 432.7,162.6 433.3,162.2 433.9,163.7 434.5,161.7 435.1,164.7 435.7,163.9 436.3,162.8 436.9,165.7 437.5,163.9 438.0,163.9 438.6,163.6 439.2,162.4 439.8,168.1 440.1,163.7 440.4,164.7 441.0,163.6 441.6,164.4 442.2,166.5 442.8,166.4 443.4,167.2 443.9,164.0 444.5,166.8 445.1,165.5 445.7,166.4 446.3,169.2 446.9,166.8 447.5,166.7 448.1,164.4 448.7,167.0 449.3,168.4 449.8,167.7 450.4,165.7 451.0,166.1 451.6,166.3 452.2,166.2 452.7,168.5 452.8,165.9 453.4,166.8 454.0,170.6 454.6,168.4 455.2,165.6 455.8,168.5 456.3,168.3 456.9,167.7 457.5,167.6 458.1,168.0 458.7,167.1 459.3,169.2 459.9,170.3 460.5,168.2 461.1,168.4 461.7,166.8 462.2,165.2 462.8,167.7 463.4,167.2 464.0,166.0 464.2,167.3 464.6,167.6 465.2,170.1 465.8,169.3 466.4,170.0 467.0,169.4 467.6,167.4 468.1,168.0 468.7,169.0 469.3,172.5 469.9,168.3 470.5,168.5 471.1,171.2 471.7,169.3 472.3,170.0 472.9,168.6 473.5,172.9 474.0,171.7 474.6,167.8 475.2,171.5 475.8,171.2 476.4,170.7 477.0,169.7 477.6,168.1 477.6,170.3 478.2,168.8 478.8,169.7 479.4,171.4 480.0,168.1 480.5,169.1 481.1,171.4 481.7,171.3 482.3,172.7 482.9,173.5 483.5,171.6 483.8,169.7 484.1,173.5 484.4,173.5" fill="none" stroke="#111111" stroke-width="1.6" stroke-linejoin="round" opacity="1.0"/>
<text x="8.6" y="235.0" font-size="12.6" text-anchor="start" font-weight="bold" font-style="normal" fill="#000" >C</text>
<line x1="45.6" y1="244.60000000000002" x2="45.6" y2="396.5" stroke="#231f20" stroke-width="1.35"/>
<line x1="42.2" y1="395.9" x2="45.6" y2="395.9" stroke="#231f20" stroke-width="1.1"/>
<text x="38.8" y="399.09999999999997" font-size="8.8" text-anchor="end" font-weight="normal" font-style="normal" fill="#231f20" >0</text>
<line x1="42.2" y1="358.9" x2="45.6" y2="358.9" stroke="#231f20" stroke-width="1.1"/>
<text x="38.8" y="362.09999999999997" font-size="8.8" text-anchor="end" font-weight="normal" font-style="normal" fill="#231f20" >10</text>
<line x1="42.2" y1="321.9" x2="45.6" y2="321.9" stroke="#231f20" stroke-width="1.1"/>
<text x="38.8" y="325.09999999999997" font-size="8.8" text-anchor="end" font-weight="normal" font-style="normal" fill="#231f20" >20</text>
<line x1="42.2" y1="284.9" x2="45.6" y2="284.9" stroke="#231f20" stroke-width="1.1"/>
<text x="38.8" y="288.09999999999997" font-size="8.8" text-anchor="end" font-weight="normal" font-style="normal" fill="#231f20" >30</text>
<line x1="42.2" y1="247.89999999999998" x2="45.6" y2="247.89999999999998" stroke="#231f20" stroke-width="1.1"/>
<text x="38.8" y="251.09999999999997" font-size="8.8" text-anchor="end" font-weight="normal" font-style="normal" fill="#231f20" >40</text>
<line x1="45.0" y1="395.9" x2="193" y2="395.9" stroke="#231f20" stroke-width="1.35"/>
<line x1="63.9" y1="395.9" x2="63.9" y2="398.9" stroke="#231f20" stroke-width="1.1"/>
<line x1="93.6" y1="395.9" x2="93.6" y2="398.9" stroke="#231f20" stroke-width="1.1"/>
<line x1="145.1" y1="395.9" x2="145.1" y2="398.9" stroke="#231f20" stroke-width="1.1"/>
<line x1="174.9" y1="395.9" x2="174.9" y2="398.9" stroke="#231f20" stroke-width="1.1"/>
<text transform="translate(21.8,320.4) rotate(-90)" x="0" y="0" font-size="9.40" text-anchor="middle" textLength="52.3" lengthAdjust="spacingAndGlyphs" fill="#231f20" stroke="#231f20" stroke-width="0.22">Lag time (mins)</text>
<rect x="56.0" y="358.2" width="15.900000000000006" height="37.0" fill="#ad8c6d"/>
<rect x="85.5" y="345.3" width="16.299999999999997" height="49.89999999999998" fill="#ad8c6d"/>
<rect x="137.2" y="316.9" width="15.900000000000006" height="78.30000000000001" fill="#e38b7b"/>
<rect x="166.9" y="315.5" width="15.900000000000006" height="79.69999999999999" fill="#e38b7b"/>
<line x1="63.9" y1="353.4" x2="63.9" y2="362.8" stroke="#1f3155" stroke-width="1.1"/>
<line x1="61.3" y1="353.4" x2="66.5" y2="353.4" stroke="#1f3155" stroke-width="1.1"/>
<line x1="61.3" y1="362.8" x2="66.5" y2="362.8" stroke="#1f3155" stroke-width="1.1"/>
<circle cx="57.5" cy="353.1" r="2.6" fill="#5e3610" stroke="#3d2205" stroke-width="0.9"/>
<circle cx="63.9" cy="360.6" r="2.6" fill="#5e3610" stroke="#3d2205" stroke-width="0.9"/>
<circle cx="70.6" cy="357.7" r="2.6" fill="#5e3610" stroke="#3d2205" stroke-width="0.9"/>
<line x1="93.6" y1="322.0" x2="93.6" y2="362.5" stroke="#2b2b2b" stroke-width="1.1"/>
<line x1="90.89999999999999" y1="322.0" x2="96.3" y2="322.0" stroke="#2b2b2b" stroke-width="1.1"/>
<line x1="90.89999999999999" y1="362.5" x2="96.3" y2="362.5" stroke="#2b2b2b" stroke-width="1.1"/>
<circle cx="86.9" cy="355.1" r="2.5" fill="#f6efe6" stroke="#6b3d10" stroke-width="1.1"/>
<circle cx="100.3" cy="355.1" r="2.5" fill="#f6efe6" stroke="#6b3d10" stroke-width="1.1"/>
<circle cx="93.6" cy="322.0" r="2.5" fill="#ffffff" stroke="#2b1a08" stroke-width="1.1"/>
<line x1="145.1" y1="302.8" x2="145.1" y2="325.0" stroke="#444" stroke-width="1.1"/>
<line x1="142.7" y1="302.8" x2="147.5" y2="302.8" stroke="#444" stroke-width="1.1"/>
<line x1="142.7" y1="325.0" x2="147.5" y2="325.0" stroke="#444" stroke-width="1.1"/>
<circle cx="145.1" cy="302.8" r="2.6" fill="#c5132f" stroke="#9e0c22" stroke-width="0.9"/>
<circle cx="145.1" cy="319.8" r="2.6" fill="#c5132f" stroke="#9e0c22" stroke-width="0.9"/>
<circle cx="145.1" cy="324.8" r="2.6" fill="#c5132f" stroke="#9e0c22" stroke-width="0.9"/>
<line x1="174.9" y1="302.8" x2="174.9" y2="325.6" stroke="#444" stroke-width="1.1"/>
<line x1="172.70000000000002" y1="302.8" x2="177.1" y2="302.8" stroke="#444" stroke-width="1.1"/>
<line x1="172.70000000000002" y1="325.6" x2="177.1" y2="325.6" stroke="#444" stroke-width="1.1"/>
<circle cx="174.9" cy="302.8" r="2.5" fill="none" stroke="#b0122b" stroke-width="1.1"/>
<circle cx="174.9" cy="314.6" r="2.5" fill="none" stroke="#b0122b" stroke-width="1.1"/>
<circle cx="174.9" cy="325.6" r="2.5" fill="none" stroke="#b0122b" stroke-width="1.1"/>
<polyline points="62.5,305.8 62.5,299.7 93.9,299.7 93.9,305.8" fill="none" stroke="#3a3a3a" stroke-width="1.2"/>
<text x="78.4" y="293.7" font-size="8.4" text-anchor="middle" font-weight="normal" font-style="normal" fill="#231f20" >ns</text>
<polyline points="144.3,280.3 144.3,273.8 175.4,273.8 175.4,280.3" fill="none" stroke="#3a3a3a" stroke-width="1.2"/>
<text x="160.0" y="268.5" font-size="8.4" text-anchor="middle" font-weight="normal" font-style="normal" fill="#231f20" >ns</text>
<text x="63.9" y="410.5" font-size="8.5" text-anchor="middle" font-weight="normal" font-style="normal" fill="#231f20" >Veh</text>
<text x="93.6" y="410.5" font-size="8.5" text-anchor="middle" font-weight="normal" font-style="normal" fill="#231f20" >Bero</text>
<text x="145.1" y="410.5" font-size="8.5" text-anchor="middle" font-weight="normal" font-style="normal" fill="#231f20" >Veh</text>
<text x="174.9" y="410.5" font-size="8.5" text-anchor="middle" font-weight="normal" font-style="normal" fill="#231f20" >Bero</text>
<line x1="60" y1="418.8" x2="103" y2="418.8" stroke="#333" stroke-width="1.3"/>
<line x1="141.5" y1="418.8" x2="184" y2="418.8" stroke="#333" stroke-width="1.3"/>
<text x="81.5" y="431.3" font-size="9.1" font-style="italic" text-anchor="middle" fill="#231f20">F12<tspan font-size="7.4" dy="-3.2">+/+</tspan></text>
<text x="163.0" y="431.3" font-size="9.1" font-style="italic" text-anchor="middle" fill="#231f20">F12<tspan font-size="7.4" dy="-3.2">−/−</tspan></text>
<text x="211.0" y="234.6" font-size="12.6" text-anchor="start" font-weight="bold" font-style="normal" fill="#000" >D</text>
<line x1="248.6" y1="246.0" x2="248.6" y2="396.5" stroke="#231f20" stroke-width="1.35"/>
<line x1="245.2" y1="395.9" x2="248.6" y2="395.9" stroke="#231f20" stroke-width="1.1"/>
<text x="241.8" y="399.09999999999997" font-size="8.8" text-anchor="end" font-weight="normal" font-style="normal" fill="#231f20" >0</text>
<line x1="245.2" y1="359.21999999999997" x2="248.6" y2="359.21999999999997" stroke="#231f20" stroke-width="1.1"/>
<text x="241.8" y="362.41999999999996" font-size="8.8" text-anchor="end" font-weight="normal" font-style="normal" fill="#231f20" >20</text>
<line x1="245.2" y1="322.53999999999996" x2="248.6" y2="322.53999999999996" stroke="#231f20" stroke-width="1.1"/>
<text x="241.8" y="325.73999999999995" font-size="8.8" text-anchor="end" font-weight="normal" font-style="normal" fill="#231f20" >40</text>
<line x1="245.2" y1="285.85999999999996" x2="248.6" y2="285.85999999999996" stroke="#231f20" stroke-width="1.1"/>
<text x="241.8" y="289.05999999999995" font-size="8.8" text-anchor="end" font-weight="normal" font-style="normal" fill="#231f20" >60</text>
<line x1="245.2" y1="249.17999999999998" x2="248.6" y2="249.17999999999998" stroke="#231f20" stroke-width="1.1"/>
<text x="241.8" y="252.37999999999997" font-size="8.8" text-anchor="end" font-weight="normal" font-style="normal" fill="#231f20" >80</text>
<line x1="247.9" y1="395.9" x2="396.2" y2="395.9" stroke="#231f20" stroke-width="1.35"/>
<line x1="266.9" y1="395.9" x2="266.9" y2="398.9" stroke="#231f20" stroke-width="1.1"/>
<line x1="296.2" y1="395.9" x2="296.2" y2="398.9" stroke="#231f20" stroke-width="1.1"/>
<line x1="347.2" y1="395.9" x2="347.2" y2="398.9" stroke="#231f20" stroke-width="1.1"/>
<line x1="376.5" y1="395.9" x2="376.5" y2="398.9" stroke="#231f20" stroke-width="1.1"/>
<text transform="translate(224.2,321.4) rotate(-90)" x="0" y="0" font-size="9.40" text-anchor="middle" textLength="57.3" lengthAdjust="spacingAndGlyphs" fill="#231f20" stroke="#231f20" stroke-width="0.22">Peak height (nM)</text>
<rect x="259.0" y="275.5" width="15.800000000000011" height="119.69999999999999" fill="#ad8c6d"/>
<rect x="288.3" y="335.4" width="15.699999999999989" height="59.80000000000001" fill="#ad8c6d"/>
<rect x="339.0" y="363.1" width="16.399999999999977" height="32.099999999999966" fill="#e38b7b"/>
<rect x="368.3" y="373.2" width="16.30000000000001" height="22.0" fill="#e38b7b"/>
<line x1="266.9" y1="264.0" x2="266.9" y2="282.5" stroke="#333" stroke-width="1.1"/>
<line x1="264.09999999999997" y1="264.0" x2="269.7" y2="264.0" stroke="#333" stroke-width="1.1"/>
<line x1="264.09999999999997" y1="282.5" x2="269.7" y2="282.5" stroke="#333" stroke-width="1.1"/>
<circle cx="260.0" cy="280.5" r="2.6" fill="#5e3610" stroke="#3d2205" stroke-width="0.9"/>
<circle cx="266.9" cy="264.0" r="2.6" fill="#5e3610" stroke="#3d2205" stroke-width="0.9"/>
<circle cx="273.3" cy="278.8" r="2.6" fill="#5e3610" stroke="#3d2205" stroke-width="0.9"/>
<line x1="296.2" y1="325.5" x2="296.2" y2="343.0" stroke="#333" stroke-width="1.1"/>
<line x1="293.4" y1="325.5" x2="299.0" y2="325.5" stroke="#333" stroke-width="1.1"/>
<line x1="293.4" y1="343.0" x2="299.0" y2="343.0" stroke="#333" stroke-width="1.1"/>
<circle cx="289.8" cy="329.8" r="2.5" fill="#fbf6f0" stroke="#6b3d10" stroke-width="1.1"/>
<circle cx="303.1" cy="328.3" r="2.5" fill="#fbf6f0" stroke="#6b3d10" stroke-width="1.1"/>
<circle cx="296.2" cy="343.1" r="2.5" fill="none" stroke="#6b3d10" stroke-width="1.1"/>
<line x1="347.2" y1="353.8" x2="347.2" y2="364.0" stroke="#333" stroke-width="1.1"/>
<line x1="344.59999999999997" y1="353.8" x2="349.8" y2="353.8" stroke="#333" stroke-width="1.1"/>
<line x1="344.59999999999997" y1="364.0" x2="349.8" y2="364.0" stroke="#333" stroke-width="1.1"/>
<circle cx="340.6" cy="363.1" r="2.6" fill="#c5132f" stroke="#9e0c22" stroke-width="0.9"/>
<circle cx="347.2" cy="353.8" r="2.6" fill="#c5132f" stroke="#9e0c22" stroke-width="0.9"/>
<circle cx="354.2" cy="361.5" r="2.6" fill="#c5132f" stroke="#9e0c22" stroke-width="0.9"/>
<line x1="376.6" y1="369.2" x2="376.6" y2="375.4" stroke="#333" stroke-width="1.1"/>
<line x1="374.0" y1="369.2" x2="379.20000000000005" y2="369.2" stroke="#333" stroke-width="1.1"/>
<line x1="374.0" y1="375.4" x2="379.20000000000005" y2="375.4" stroke="#333" stroke-width="1.1"/>
<circle cx="370.5" cy="368.3" r="2.5" fill="#fff" stroke="#c5132f" stroke-width="1.1"/>
<circle cx="376.9" cy="375.4" r="2.5" fill="none" stroke="#c5132f" stroke-width="1.1"/>
<circle cx="383.4" cy="372.6" r="2.5" fill="#fff" stroke="#c5132f" stroke-width="1.1"/>
<polyline points="265.8,254.5 265.8,248.3 296.8,248.3 296.8,254.5" fill="none" stroke="#3a3a3a" stroke-width="1.2"/>
<text x="281.3" y="247.5" font-size="8.4" text-anchor="middle" font-weight="normal" font-style="normal" fill="#231f20" >**</text>
<polyline points="347.1,342.5 347.1,335.4 377.5,335.4 377.5,342.5" fill="none" stroke="#3a3a3a" stroke-width="1.2"/>
<text x="362.4" y="334.0" font-size="8.4" text-anchor="middle" font-weight="normal" font-style="normal" fill="#231f20" >*</text>
<text x="266.9" y="410.8" font-size="8.5" text-anchor="middle" font-weight="normal" font-style="normal" fill="#231f20" >Veh</text>
<text x="296.2" y="410.8" font-size="8.5" text-anchor="middle" font-weight="normal" font-style="normal" fill="#231f20" >Bero</text>
<text x="347.2" y="410.8" font-size="8.5" text-anchor="middle" font-weight="normal" font-style="normal" fill="#231f20" >Veh</text>
<text x="376.5" y="410.8" font-size="8.5" text-anchor="middle" font-weight="normal" font-style="normal" fill="#231f20" >Bero</text>
<line x1="263" y1="418.5" x2="305.2" y2="418.5" stroke="#333" stroke-width="1.3"/>
<line x1="342.2" y1="418.5" x2="384.6" y2="418.5" stroke="#333" stroke-width="1.3"/>
<text x="284.4" y="430.6" font-size="9.1" font-style="italic" text-anchor="middle" fill="#231f20">F12<tspan font-size="7.4" dy="-3.2">+/+</tspan></text>
<text x="363.4" y="430.6" font-size="9.1" font-style="italic" text-anchor="middle" fill="#231f20">F12<tspan font-size="7.4" dy="-3.2">−/−</tspan></text>
<text x="8.4" y="462.0" font-size="12.6" text-anchor="start" font-weight="bold" font-style="normal" fill="#000" >E</text>
<line x1="45.5" y1="474.0" x2="45.5" y2="621.8000000000001" stroke="#231f20" stroke-width="1.35"/>
<line x1="42.1" y1="621.2" x2="45.5" y2="621.2" stroke="#231f20" stroke-width="1.1"/>
<text x="38.8" y="624.4000000000001" font-size="8.8" text-anchor="end" font-weight="normal" font-style="normal" fill="#231f20" >0</text>
<line x1="42.1" y1="592.4000000000001" x2="45.5" y2="592.4000000000001" stroke="#231f20" stroke-width="1.1"/>
<text x="38.8" y="595.6000000000001" font-size="8.8" text-anchor="end" font-weight="normal" font-style="normal" fill="#231f20" >20</text>
<line x1="42.1" y1="563.6" x2="45.5" y2="563.6" stroke="#231f20" stroke-width="1.1"/>
<text x="38.8" y="566.8000000000001" font-size="8.8" text-anchor="end" font-weight="normal" font-style="normal" fill="#231f20" >40</text>
<line x1="42.1" y1="534.8000000000001" x2="45.5" y2="534.8000000000001" stroke="#231f20" stroke-width="1.1"/>
<text x="38.8" y="538.0000000000001" font-size="8.8" text-anchor="end" font-weight="normal" font-style="normal" fill="#231f20" >60</text>
<line x1="42.1" y1="506.00000000000006" x2="45.5" y2="506.00000000000006" stroke="#231f20" stroke-width="1.1"/>
<text x="38.8" y="509.20000000000005" font-size="8.8" text-anchor="end" font-weight="normal" font-style="normal" fill="#231f20" >80</text>
<line x1="42.1" y1="477.20000000000005" x2="45.5" y2="477.20000000000005" stroke="#231f20" stroke-width="1.1"/>
<text x="38.8" y="480.40000000000003" font-size="8.8" text-anchor="end" font-weight="normal" font-style="normal" fill="#231f20" >100</text>
<line x1="44.9" y1="621.2" x2="264.5" y2="621.2" stroke="#231f20" stroke-width="1.3"/>
<line x1="45.5" y1="621.2" x2="45.5" y2="624.2" stroke="#231f20" stroke-width="1.1"/>
<text x="45.5" y="636.0" font-size="8.8" text-anchor="middle" font-weight="normal" font-style="normal" fill="#231f20" >0</text>
<line x1="76.3" y1="621.2" x2="76.3" y2="624.2" stroke="#231f20" stroke-width="1.1"/>
<text x="76.3" y="636.0" font-size="8.8" text-anchor="middle" font-weight="normal" font-style="normal" fill="#231f20" >10</text>
<line x1="107.1" y1="621.2" x2="107.1" y2="624.2" stroke="#231f20" stroke-width="1.1"/>
<text x="107.1" y="636.0" font-size="8.8" text-anchor="middle" font-weight="normal" font-style="normal" fill="#231f20" >20</text>
<line x1="137.9" y1="621.2" x2="137.9" y2="624.2" stroke="#231f20" stroke-width="1.1"/>
<text x="137.9" y="636.0" font-size="8.8" text-anchor="middle" font-weight="normal" font-style="normal" fill="#231f20" >30</text>
<line x1="168.7" y1="621.2" x2="168.7" y2="624.2" stroke="#231f20" stroke-width="1.1"/>
<text x="168.7" y="636.0" font-size="8.8" text-anchor="middle" font-weight="normal" font-style="normal" fill="#231f20" >40</text>
<line x1="199.5" y1="621.2" x2="199.5" y2="624.2" stroke="#231f20" stroke-width="1.1"/>
<text x="199.5" y="636.0" font-size="8.8" text-anchor="middle" font-weight="normal" font-style="normal" fill="#231f20" >50</text>
<line x1="230.3" y1="621.2" x2="230.3" y2="624.2" stroke="#231f20" stroke-width="1.1"/>
<text x="230.3" y="636.0" font-size="8.8" text-anchor="middle" font-weight="normal" font-style="normal" fill="#231f20" >60</text>
<line x1="261.1" y1="621.2" x2="261.1" y2="624.2" stroke="#231f20" stroke-width="1.1"/>
<text x="261.1" y="636.0" font-size="8.8" text-anchor="middle" font-weight="normal" font-style="normal" fill="#231f20" >70</text>
<text x="155.3" y="650.8" font-size="10.3" text-anchor="middle" textLength="39.4" lengthAdjust="spacingAndGlyphs" fill="#231f20" stroke="#231f20" stroke-width="0.22">Time (mins)</text>
<text transform="translate(16.3,548.0) rotate(-90)" x="0" y="0" font-size="9.40" text-anchor="middle" textLength="49.4" lengthAdjust="spacingAndGlyphs" fill="#231f20" stroke="#231f20" stroke-width="0.22">Thrombin (nM)</text>
<text x="57.0" y="493.3" font-size="9.1" font-style="italic" text-anchor="start" fill="#231f20">F12<tspan font-size="7.4" dy="-3.2">−/−</tspan></text>
<line x1="178.7" y1="494.0" x2="192.1" y2="494.0" stroke="#111111" stroke-width="1.3"/>
<text x="198.8" y="497.7" font-size="8.25" text-anchor="start" font-weight="normal" font-style="normal" fill="#231f20" >IgG</text>
<line x1="178.7" y1="509.2" x2="192.1" y2="509.2" stroke="#861b24" stroke-width="1.3"/>
<text x="198.8" y="512.9" font-size="8.25" text-anchor="start" font-weight="normal" font-style="normal" fill="#231f20" >75 µg/mL Lana</text>
<line x1="178.7" y1="523.3" x2="192.1" y2="523.3" stroke="#dc2a22" stroke-width="1.3"/>
<text x="198.8" y="527.0" font-size="8.25" text-anchor="start" font-weight="normal" font-style="normal" fill="#231f20" >150 µg/mL Lana</text>
<line x1="178.7" y1="537.3" x2="192.1" y2="537.3" stroke="#f3a7a3" stroke-width="1.3"/>
<text x="198.8" y="541.0" font-size="8.25" text-anchor="start" font-weight="normal" font-style="normal" fill="#231f20" >400 µg/mL Lana</text>
<polyline points="47.0,620.9 47.7,621.2 48.4,620.4 49.1,620.6 49.8,621.2 50.4,619.5 51.1,620.1 51.8,619.4 52.5,618.4 53.1,619.3 53.8,620.1 54.5,619.6 54.7,618.3 55.2,620.0 55.8,618.7 56.5,618.6 57.2,619.6 57.9,618.6 58.6,618.2 59.2,619.1 59.9,618.8 60.6,618.0 60.9,619.3 61.3,618.8 61.9,617.1 62.6,617.5 63.3,618.2 64.0,616.9 64.7,615.2 65.3,617.3 65.5,615.6 66.0,615.7 66.7,616.6 67.4,616.2 68.0,617.2 68.6,615.8 68.7,615.7 69.4,618.0 70.1,618.0 70.8,618.1 71.4,619.1 72.1,618.8 72.8,620.2 73.2,619.3 73.5,620.0 74.1,620.0 74.8,619.8 75.5,619.6 76.2,621.2 76.3,619.9 76.9,619.9 77.5,620.6 78.2,619.4 78.9,621.1 79.6,621.0 80.2,620.3 80.9,621.1 81.6,619.7 82.3,620.6 83.0,619.4 83.6,621.2 84.3,621.2 84.3,619.5 85.0,620.6 85.7,616.9 86.3,617.8 87.0,615.2 87.1,614.0 87.7,614.2 88.4,614.1 89.1,611.8 89.7,608.3 90.4,608.0 91.1,605.9 91.1,606.7 91.8,605.2 92.4,604.7 93.1,604.6 93.8,601.3 94.5,600.6 94.8,603.1 95.1,599.7 95.8,597.2 96.5,594.7 97.2,598.4 97.9,595.2 98.2,594.0 98.5,593.5 99.2,595.3 99.9,593.1 100.6,594.2 101.2,593.2 101.9,593.7 102.6,591.9 103.3,592.7 104.0,591.2 104.0,591.8 104.6,589.9 105.3,588.2 106.0,590.9 106.7,591.7 107.3,590.5 108.0,590.8 108.7,592.7 109.4,589.1 110.1,589.9 110.2,586.9 110.7,588.9 111.4,586.3 112.1,586.4 112.8,589.2 113.4,588.6 114.1,589.0 114.8,588.6 115.5,584.8 116.2,588.5 116.8,588.0 117.5,589.0 118.2,581.9 118.9,587.3 119.5,586.5 120.2,588.7 120.9,584.7 121.6,588.2 121.9,587.7 122.3,592.6 122.9,590.8 123.6,583.5 124.3,581.0 125.0,589.8 125.6,582.5 125.6,582.4 126.3,574.8 127.0,587.5 127.7,586.5 128.4,588.2 129.0,581.1 129.6,580.5 129.7,585.9 130.4,580.0 131.1,578.8 131.7,590.2 132.4,587.3 133.1,591.5 133.3,593.6 133.8,593.4 134.5,593.2 135.1,598.1 135.8,593.9 136.5,590.9 137.2,598.8 137.6,597.5 137.8,599.0 138.5,593.2 139.2,594.8 139.9,590.1 140.5,594.9 141.2,599.5 141.9,590.4 142.5,593.7 142.6,587.6 143.3,589.9 143.9,603.1 144.6,602.7 145.3,594.5 146.0,598.4 146.6,605.3 147.3,598.6 148.0,591.0 148.7,594.4 149.4,601.8 149.9,596.9 150.0,593.6 150.7,598.7 151.4,589.5 152.1,600.5 152.7,587.3 153.3,589.7 153.4,594.4 154.1,596.1 154.8,597.3 155.5,602.1 156.1,593.5 156.8,592.4 157.5,595.0 158.2,597.7 158.8,598.8 159.5,604.1 159.5,602.8 160.2,607.0 160.9,598.2 161.6,605.3 162.2,597.3 162.9,605.0 163.6,595.2 164.3,594.9 164.9,595.5 165.6,597.8 166.3,605.4 167.0,605.9 167.7,608.4 168.3,603.5 168.7,596.9 169.0,611.0 169.7,594.6 170.4,608.9 171.0,612.2 171.7,604.7 172.4,601.1 173.1,608.8 173.8,612.5 174.4,598.3 174.9,613.3 175.1,602.4 175.8,606.9 176.5,609.7 177.1,607.6 177.8,613.7 178.5,613.9 179.2,606.4 179.8,613.7 180.5,612.3 181.0,600.5 181.2,598.6 181.9,602.4 182.6,603.6 183.2,610.0 183.9,608.2 184.6,612.9 185.3,621.0 185.9,608.0 186.6,607.9 187.3,603.8 188.0,615.9 188.7,603.2 189.3,612.5 190.0,616.5 190.3,611.1 190.7,604.7 191.4,609.9 192.0,607.5 192.7,614.8 193.4,607.4 194.1,604.6 194.8,615.0 195.4,607.8 196.1,617.6 196.8,609.0 197.5,618.6 198.1,608.1 198.8,610.5 199.5,616.7 199.5,608.5 200.2,616.0 200.9,610.1 201.5,615.6 202.2,607.6 202.9,613.7 203.6,602.7 204.2,608.2 204.9,607.7 205.6,618.1 206.3,621.2 207.0,615.2 207.6,600.7 208.3,616.1 209.0,604.1 209.7,603.9 210.3,614.2 211.0,612.1 211.7,603.7 212.4,612.4 213.1,613.3 213.7,614.3 214.4,610.7 214.9,611.7 215.1,604.2 215.8,609.8 216.4,604.6 217.1,611.8 217.8,598.9 218.5,611.9 219.2,612.1 219.8,615.8 220.5,620.8 221.2,616.3 221.9,610.2 222.5,617.0 223.2,606.8 223.9,620.7 224.6,620.9 225.2,609.9 225.9,609.5 226.6,618.0 227.3,605.6 228.0,603.9 228.6,609.7 229.3,619.0 230.0,604.8 230.3,613.4 230.7,612.8 231.3,609.1 232.0,615.8 232.7,603.4 233.4,615.4 234.1,605.9 234.7,607.6 235.4,602.0 236.1,609.2 236.8,607.2 237.4,614.3 238.1,613.4 238.8,615.6 239.5,607.9 240.2,615.9 240.8,603.6 241.5,612.8 242.2,618.9 242.9,616.0 243.5,605.7 244.2,615.0 244.9,609.0 245.6,621.2 245.7,609.8 246.3,608.0 246.9,609.5 247.6,608.0 248.3,618.1 249.0,621.2 249.6,620.1 250.3,607.9 251.0,610.4 251.7,608.2 252.4,616.0 253.0,608.3 253.7,621.2 254.4,610.6 255.1,618.9 255.7,615.5 256.4,609.4 257.1,608.2 257.8,614.1 258.5,615.3 259.1,605.6 259.8,607.4 260.5,617.3 261.1,611.8 261.2,614.8 261.8,609.6 262.5,614.1 262.9,615.2" fill="none" stroke="#dc2a22" stroke-width="1.4" stroke-linejoin="round" opacity="1.0"/>
<polyline points="47.0,620.5 47.7,620.3 48.4,620.6 49.1,619.8 49.8,620.4 50.4,620.9 51.1,618.1 51.7,618.7 51.8,620.5 52.5,619.6 53.1,619.1 53.8,618.3 54.5,617.4 55.2,618.0 55.8,618.4 56.5,617.6 57.2,617.9 57.8,617.5 57.9,618.1 58.6,618.6 59.2,616.8 59.9,618.1 60.6,617.8 61.3,618.4 61.9,618.5 62.6,618.4 63.3,617.8 64.0,617.4 64.0,617.9 64.7,618.9 65.3,617.1 66.0,618.2 66.7,618.3 67.4,619.5 68.0,619.4 68.7,619.0 69.4,620.8 70.1,620.3 70.1,619.5 70.8,618.2 71.4,619.6 72.1,620.7 72.8,620.9 73.5,619.4 74.1,620.8 74.8,620.6 75.5,619.0 76.2,620.4 76.3,620.7 76.9,621.0 77.5,619.5 78.2,619.5 78.9,621.0 79.6,621.2 80.2,620.6 80.9,619.5 81.6,620.2 82.3,621.2 83.0,620.2 83.6,619.9 84.3,620.5 85.0,620.4 85.5,620.5 85.7,620.8 86.3,620.7 87.0,621.0 87.7,620.7 88.4,620.8 89.1,619.1 89.7,618.8 90.2,619.0 90.4,618.4 91.1,617.8 91.8,617.5 92.3,616.0 92.4,616.6 93.1,617.5 93.8,619.8 94.5,619.7 94.8,619.5 95.1,618.6 95.7,616.8 95.8,617.6 96.5,618.3 97.2,618.1 97.9,621.0 97.9,619.8 98.5,620.9 99.2,619.7 99.9,620.9 100.6,620.2 101.2,620.0 101.9,620.0 101.9,621.0 102.6,617.0 103.3,614.1 104.0,609.9 104.6,606.6 105.3,605.6 106.0,603.5 106.7,604.7 107.3,603.4 108.0,602.2 108.6,600.8 108.7,601.6 109.4,598.8 110.1,600.3 110.7,595.0 111.4,596.8 112.1,594.1 112.8,597.1 113.3,595.1 113.4,594.1 114.1,590.3 114.8,592.4 115.5,589.0 116.2,592.3 116.8,587.1 117.5,590.6 118.2,592.1 118.9,591.8 119.1,586.9 119.5,587.5 120.2,586.0 120.9,586.3 121.6,584.6 122.3,581.3 122.5,585.6 122.9,584.2 123.6,585.7 124.3,589.0 125.0,584.8 125.6,579.5 126.3,585.9 127.0,576.7 127.7,581.2 128.4,581.1 128.7,579.5 129.0,582.4 129.7,582.3 130.4,578.3 131.1,584.9 131.7,583.1 132.4,586.4 133.1,582.3 133.8,575.9 134.5,579.0 134.8,585.8 135.1,588.6 135.8,581.4 136.5,581.1 137.2,585.6 137.8,579.6 138.5,582.7 139.2,582.0 139.9,582.1 140.5,581.2 141.0,586.3 141.2,587.2 141.9,580.8 142.6,585.8 143.3,589.5 143.9,584.6 144.6,587.5 145.3,585.1 146.0,579.5 146.6,580.7 147.3,588.2 148.0,590.9 148.7,587.1 149.4,590.4 150.0,586.7 150.7,586.7 151.4,585.7 152.1,588.1 152.7,592.8 153.3,588.9 153.4,588.3 154.1,588.0 154.8,585.0 155.5,592.6 156.1,589.9 156.8,591.6 157.5,592.7 158.2,588.1 158.8,592.4 159.5,584.3 160.2,598.4 160.9,586.2 161.6,592.2 162.2,595.7 162.9,591.3 163.6,591.7 163.8,588.9 164.3,588.2 164.9,595.1 165.6,592.7 166.3,591.8 167.0,592.4 167.7,594.4 168.3,588.9 169.0,592.7 169.7,598.3 169.9,593.0 170.4,594.9 171.0,595.2 171.7,591.6 172.4,592.4 173.1,593.8 173.8,593.6 174.4,592.2 175.1,597.4 175.8,595.2 176.5,591.5 177.1,598.0 177.8,597.7 178.5,598.5 179.2,593.0 179.2,598.2 179.8,593.1 180.5,598.4 181.2,596.5 181.9,596.3 182.6,599.3 183.2,601.1 183.9,594.6 184.6,599.4 185.3,596.5 185.9,596.2 186.6,603.6 187.3,594.6 188.0,598.6 188.7,600.2 189.3,600.7 190.0,601.2 190.0,598.7 190.7,592.5 191.4,600.1 192.0,603.6 192.7,600.8 193.4,592.8 194.1,599.8 194.8,593.4 195.4,602.9 196.1,603.0 196.8,604.4 197.5,603.8 198.1,600.9 198.8,600.3 199.5,607.0 200.2,604.6 200.9,603.9 201.5,602.6 202.2,596.6 202.9,596.2 203.6,600.1 204.2,599.0 204.9,604.7 205.6,600.8 205.7,608.1 206.3,602.3 207.0,601.2 207.6,599.4 208.3,602.9 209.0,603.0 209.7,606.2 210.3,610.1 211.0,605.1 211.7,609.8 212.4,604.5 213.1,604.3 213.7,608.2 214.4,609.8 215.1,604.1 215.8,605.6 216.4,602.1 217.1,600.6 217.8,598.0 218.5,600.4 219.2,607.2 219.8,604.2 220.5,596.5 221.2,607.2 221.9,605.5 222.5,599.5 223.2,602.2 223.9,606.6 224.1,603.1 224.6,606.6 225.2,601.3 225.9,605.1 226.6,604.6 227.3,604.2 228.0,612.1 228.6,605.7 229.3,603.7 230.0,605.0 230.7,607.3 231.3,605.8 232.0,600.3 232.7,603.3 233.4,608.1 234.1,602.0 234.7,604.9 235.4,607.9 236.1,612.7 236.5,604.2 236.8,610.4 237.4,605.2 238.1,602.5 238.8,604.1 239.5,611.2 240.2,610.3 240.8,604.6 241.5,603.1 242.2,607.2 242.9,607.9 243.5,600.7 244.2,601.4 244.9,606.6 245.6,609.0 246.3,605.4 246.9,612.5 247.6,607.2 248.3,607.2 248.8,603.7 249.0,606.2 249.6,615.1 250.3,601.6 251.0,606.5 251.7,616.3 252.4,614.8 253.0,606.6 253.7,614.2 254.4,606.4 255.1,613.6 255.7,615.8 256.4,604.0 257.1,603.6 257.8,611.3 258.5,604.3 259.1,609.2 259.8,608.8 260.5,611.5 261.1,608.4 261.2,605.4 261.8,606.4 262.5,605.1 262.9,606.7" fill="none" stroke="#861b24" stroke-width="1.4" stroke-linejoin="round" opacity="1.0"/>
<polyline points="47.0,621.2 47.7,620.8 48.3,620.4 48.9,621.2 49.5,619.9 49.8,620.3 50.1,619.2 50.7,618.6 51.4,616.7 52.0,617.4 52.6,613.9 53.2,613.5 53.8,614.2 54.4,612.2 55.0,611.5 55.7,612.5 56.3,609.6 56.6,610.2 56.9,610.3 57.5,611.4 58.1,612.0 58.7,612.4 59.4,613.2 59.4,614.6 60.0,614.1 60.6,615.5 61.2,616.0 61.8,615.8 62.4,615.3 62.4,615.5 63.1,616.8 63.7,617.1 64.3,617.4 64.9,616.8 65.5,616.4 66.1,617.4 66.8,617.0 67.1,617.5 67.4,616.7 68.0,620.2 68.6,620.7 69.2,619.5 69.8,619.3 70.1,620.4 70.4,619.7 71.1,621.1 71.7,621.2 72.3,620.9 72.9,619.6 73.5,619.8 74.1,621.0 74.8,620.3 74.8,621.0 75.4,620.1 76.0,620.7 76.6,619.4 77.2,619.7 77.8,618.7 78.5,618.9 78.5,619.0 79.1,618.7 79.7,619.5 80.3,619.6 80.9,620.4 80.9,619.5 81.5,620.8 82.2,619.5 82.8,619.1 83.4,620.5 84.0,618.8 84.6,618.6 85.2,620.1 85.5,621.2 85.8,621.2 86.5,620.7 87.1,619.0 87.7,620.1 88.3,619.9 88.9,620.8 89.5,621.2 90.2,620.4 90.8,621.2 91.4,620.9 92.0,620.3 92.3,620.7 92.6,620.3 93.2,621.0 93.9,620.1 94.5,620.2 94.8,621.2 95.1,620.6 95.7,618.7 96.3,616.0 96.9,614.7 97.6,613.1 97.9,612.4 98.2,611.4 98.8,610.0 99.4,610.2 100.0,610.0 100.6,606.8 100.9,607.0 101.2,606.2 101.9,605.4 102.5,605.3 103.1,604.7 103.7,601.2 104.0,600.5 104.3,600.3 104.9,600.4 105.6,599.6 106.2,599.7 106.8,598.4 107.1,598.6 107.4,598.5 108.0,597.0 108.6,594.7 109.3,598.3 109.9,594.8 110.5,594.1 111.1,595.8 111.7,593.3 112.3,593.0 112.3,593.7 113.0,593.4 113.6,594.3 114.2,589.9 114.8,588.9 115.4,589.3 116.0,591.5 116.3,590.6 116.6,590.4 117.3,591.8 117.9,590.9 118.5,589.6 119.1,590.8 119.7,592.6 120.3,591.8 121.0,589.4 121.6,590.1 121.9,590.0 122.2,587.4 122.8,589.5 123.4,590.9 124.0,589.9 124.7,586.0 125.3,591.9 125.9,586.7 126.5,587.3 127.1,590.4 127.7,590.8 128.4,587.4 128.7,589.7 129.0,591.4 129.6,586.7 130.2,590.2 130.8,590.0 131.4,590.7 132.0,591.6 132.7,590.8 133.3,592.0 133.9,590.2 134.5,589.1 134.8,589.1 135.1,588.9 135.7,588.2 136.4,589.9 137.0,593.1 137.6,589.6 138.2,595.7 138.8,593.6 139.4,591.3 140.1,596.1 140.7,588.5 141.0,594.6 141.3,595.8 141.9,594.1 142.5,594.2 143.1,592.4 143.8,592.8 144.4,589.8 145.0,592.9 145.6,592.1 146.2,595.2 146.8,591.4 147.4,594.8 148.1,598.0 148.7,589.3 149.3,595.8 149.9,596.0 149.9,595.4 150.5,591.3 151.1,597.5 151.8,594.5 152.4,592.0 153.0,588.3 153.6,594.7 154.2,593.9 154.8,596.7 155.5,588.5 155.8,594.8 156.1,594.6 156.7,594.1 157.3,597.4 157.9,594.8 158.5,598.7 159.2,590.4 159.8,595.5 160.4,595.6 161.0,591.6 161.6,599.1 162.2,591.0 162.8,590.7 163.5,598.1 164.1,593.5 164.7,596.1 165.0,592.9 165.3,595.8 165.9,599.1 166.5,594.1 167.2,597.1 167.8,595.9 168.4,593.2 169.0,592.5 169.6,594.7 170.2,602.2 170.9,594.7 171.5,598.5 172.1,593.6 172.7,598.4 173.3,592.5 173.9,596.0 174.6,598.1 174.9,597.0 175.2,605.0 175.8,596.2 176.4,598.1 177.0,603.0 177.6,597.2 178.2,597.7 178.9,597.7 179.5,599.7 180.1,596.1 180.7,596.2 181.3,599.3 181.9,600.1 182.6,601.9 183.2,602.6 183.8,597.6 184.4,602.8 185.0,606.6 185.6,599.6 186.3,596.0 186.9,602.1 187.2,597.3 187.5,599.0 188.1,605.6 188.7,599.9 189.3,601.9 190.0,598.6 190.6,611.1 191.2,598.2 191.8,598.6 192.4,606.0 193.0,597.4 193.6,602.8 194.3,601.5 194.9,598.6 195.5,596.7 196.1,601.9 196.7,599.7 197.3,600.9 198.0,606.1 198.6,595.9 199.2,599.8 199.5,602.5 199.8,598.6 200.4,600.9 201.0,605.8 201.7,599.1 202.3,603.2 202.9,600.9 203.5,599.6 204.1,599.7 204.7,595.7 205.4,603.1 206.0,604.7 206.6,607.2 207.2,606.9 207.8,601.4 208.4,602.5 209.0,608.1 209.7,607.1 210.3,606.5 210.9,597.9 211.5,608.8 212.1,603.3 212.7,611.9 213.4,606.0 214.0,599.1 214.6,610.5 214.9,600.2 215.2,613.4 215.8,605.1 216.4,610.2 217.1,605.6 217.7,606.6 218.3,602.2 218.9,604.6 219.5,605.1 220.1,608.3 220.8,604.1 221.4,609.5 222.0,609.0 222.6,609.0 223.2,603.9 223.8,597.1 224.4,606.8 225.1,598.3 225.7,611.1 226.3,609.4 226.9,604.6 227.5,604.3 228.1,603.8 228.8,600.3 229.4,608.1 230.0,602.6 230.3,606.3 230.6,617.1 231.2,611.8 231.8,609.9 232.5,607.2 233.1,605.6 233.7,609.1 234.3,602.4 234.9,612.4 235.5,608.4 236.2,604.4 236.8,613.4 237.4,603.2 238.0,604.6 238.6,609.6 239.2,609.0 239.8,609.5 240.5,609.1 241.1,604.0 241.7,607.2 242.3,615.5 242.9,616.3 243.5,607.2 244.2,619.6 244.8,616.8 245.4,612.8 245.7,610.3 246.0,604.5 246.6,609.6 247.2,601.1 247.9,609.6 248.5,606.9 249.1,606.3 249.7,611.3 250.3,606.8 250.9,608.4 251.6,610.1 252.2,613.9 252.8,613.1 253.4,607.9 254.0,611.6 254.6,609.8 255.2,609.9 255.9,610.5 256.5,611.7 257.1,609.3 257.7,608.4 258.3,606.1 258.9,610.0 259.6,614.6 260.2,615.2 260.8,609.6 261.1,619.0 261.4,615.1 262.0,609.4 262.6,616.2 262.9,618.1" fill="none" stroke="#111111" stroke-width="1.5" stroke-linejoin="round" opacity="1.0"/>
<polyline points="47.0,621.2 47.7,621.2 48.4,617.8 49.1,618.4 49.8,617.5 50.1,617.8 50.4,617.4 51.1,616.7 51.8,616.4 52.5,616.6 53.1,615.2 53.8,614.9 54.5,615.0 54.7,615.3 55.2,615.5 55.8,615.6 56.5,614.7 57.2,615.3 57.9,614.4 58.6,615.9 59.2,614.7 59.9,615.3 60.6,615.8 60.9,614.7 61.3,615.4 61.9,615.1 62.6,615.0 63.3,615.6 64.0,616.5 64.7,616.2 65.3,615.7 66.0,617.1 66.7,616.4 67.1,617.0 67.4,617.3 68.0,617.6 68.7,618.2 69.4,617.8 70.1,617.6 70.8,619.4 71.4,618.5 71.7,618.2 72.1,618.7 72.8,618.2 73.5,619.4 74.1,618.6 74.8,618.8 75.5,619.3 76.2,620.2 76.3,618.6 76.9,620.0 77.5,619.6 78.2,620.6 78.9,620.5 79.6,619.9 80.2,621.1 80.9,620.0 81.6,619.3 82.3,621.2 82.5,620.7 83.0,620.0 83.6,620.7 84.3,620.0 85.0,620.4 85.7,621.2 86.3,621.2 87.0,620.7 87.7,620.0 88.4,621.0 89.1,619.9 89.7,621.2 90.4,620.2 91.1,620.7 91.8,620.7 92.4,620.8 93.1,621.0 93.8,620.7 94.5,621.2 95.1,620.2 95.8,621.2 96.5,620.3 97.2,621.2 97.9,621.2 98.5,620.3 99.2,620.5 99.9,620.6 100.6,619.8 101.2,621.0 101.9,620.2 102.6,620.5 103.3,619.9 104.0,621.2 104.6,620.9 105.3,620.9 106.0,621.1 106.7,621.2 107.3,620.8 108.0,620.9 108.7,621.1 109.4,620.8 110.1,621.2 110.7,620.1 111.4,620.5 112.1,620.7 112.8,620.4 113.3,620.9 113.4,621.1 114.1,621.0 114.8,621.1 115.5,621.0 116.2,620.2 116.8,621.0 117.5,619.9 118.2,620.4 118.9,619.6 119.5,620.9 120.2,621.0 120.9,620.9 121.6,621.2 122.3,620.1 122.9,620.3 123.6,620.5 124.3,620.5 125.0,619.9 125.6,621.0 125.6,620.3 126.3,620.1 127.0,619.6 127.7,619.0 128.4,619.5 129.0,620.1 129.7,619.1 130.4,619.4 131.1,619.0 131.1,619.7 131.7,618.8 132.4,618.2 133.1,618.0 133.8,617.0 134.5,615.7 135.1,616.5 135.8,616.7 136.5,615.8 137.2,614.4 137.8,614.7 137.9,614.0 138.5,614.1 139.2,613.1 139.9,613.7 140.5,612.0 141.2,612.3 141.9,611.5 142.6,610.5 143.3,612.6 143.9,609.6 144.6,608.5 145.3,609.8 145.3,610.1 146.0,609.4 146.6,608.4 147.3,608.6 148.0,609.1 148.7,608.6 149.4,608.7 150.0,607.7 150.7,607.5 151.4,607.7 152.1,605.8 152.7,605.8 153.3,605.0 153.4,606.9 154.1,604.2 154.8,603.3 155.5,604.4 156.1,604.8 156.8,604.8 157.0,602.4 157.5,603.1 158.2,602.6 158.8,602.9 159.5,603.9 160.2,602.8 160.9,602.3 161.6,602.8 162.2,601.7 162.5,602.5 162.9,601.2 163.6,603.4 164.3,601.5 164.9,601.9 165.6,601.2 166.3,600.8 167.0,601.4 167.7,601.6 168.3,602.3 169.0,601.0 169.7,601.8 169.9,601.5 170.4,602.0 171.0,601.9 171.7,602.7 172.4,600.5 173.1,602.3 173.8,602.9 174.4,603.1 175.1,602.6 175.8,603.4 176.5,602.6 177.1,603.3 177.8,603.3 178.5,602.7 179.2,603.5 179.8,603.6 179.8,603.5 180.5,602.9 181.2,604.1 181.9,603.1 182.6,603.6 183.2,603.9 183.9,605.4 184.6,604.3 185.3,605.7 185.9,605.1 186.6,604.9 187.3,605.2 188.0,605.9 188.7,604.1 189.3,605.2 190.0,603.9 190.7,605.1 191.4,606.7 192.0,604.1 192.7,604.5 193.4,604.0 194.1,605.8 194.8,607.4 195.4,605.5 196.1,606.7 196.8,606.6 197.5,606.8 198.1,607.0 198.8,605.2 199.5,607.1 199.5,608.0 200.2,604.7 200.9,607.0 201.5,607.4 202.2,605.7 202.9,606.3 203.6,608.1 204.2,605.9 204.9,606.1 205.6,606.5 206.3,608.6 207.0,607.1 207.6,608.8 208.3,607.1 209.0,606.8 209.7,606.6 210.3,608.2 211.0,606.3 211.7,607.8 212.4,608.0 213.1,608.5 213.7,607.4 214.4,607.4 215.1,608.1 215.8,608.8 216.4,607.0 217.1,608.0 217.8,607.6 218.5,607.9 219.2,608.4 219.8,609.2 220.5,609.2 221.2,609.1 221.9,610.8 222.5,609.5 223.2,608.2 223.9,609.0 224.6,610.5 225.2,608.8 225.9,609.7 226.6,608.4 227.3,609.7 228.0,610.4 228.6,609.5 229.3,610.0 229.4,609.2 230.0,610.4 230.7,608.8 231.3,610.3 232.0,611.4 232.7,610.9 233.4,610.8 234.1,609.7 234.7,610.3 235.4,610.8 236.1,610.1 236.8,610.6 237.4,610.2 238.1,611.6 238.8,610.0 239.5,613.3 240.2,612.9 240.8,611.7 241.5,611.1 242.2,610.6 242.9,611.8 243.5,612.1 244.2,611.9 244.9,612.2 245.6,612.5 245.7,613.7 246.3,613.4 246.9,612.7 247.6,614.2 248.3,612.8 249.0,611.9 249.6,613.2 250.3,614.0 251.0,614.4 251.7,613.9 252.4,613.1 253.0,612.4 253.7,613.4 254.4,612.9 255.1,612.9 255.7,613.7 256.4,614.2 257.1,612.2 257.8,613.0 258.5,612.3 259.1,614.2 259.8,614.1 260.5,613.6 261.2,614.3 261.8,615.1 262.5,614.7 262.9,615.3" fill="none" stroke="#f3a7a3" stroke-width="1.2" stroke-linejoin="round" opacity="1.0"/>
<text x="284.6" y="463.2" font-size="12.6" text-anchor="start" font-weight="bold" font-style="normal" fill="#000" >F</text>
<line x1="316.6" y1="472.0" x2="316.6" y2="621.85" stroke="#231f20" stroke-width="1.35"/>
<line x1="313.20000000000005" y1="621.25" x2="316.6" y2="621.25" stroke="#231f20" stroke-width="1.1"/>
<text x="310.5" y="624.45" font-size="8.8" text-anchor="end" font-weight="normal" font-style="normal" fill="#231f20" >0</text>
<line x1="313.20000000000005" y1="584.75" x2="316.6" y2="584.75" stroke="#231f20" stroke-width="1.1"/>
<text x="310.5" y="587.95" font-size="8.8" text-anchor="end" font-weight="normal" font-style="normal" fill="#231f20" >10</text>
<line x1="313.20000000000005" y1="548.25" x2="316.6" y2="548.25" stroke="#231f20" stroke-width="1.1"/>
<text x="310.5" y="551.45" font-size="8.8" text-anchor="end" font-weight="normal" font-style="normal" fill="#231f20" >20</text>
<line x1="313.20000000000005" y1="511.75" x2="316.6" y2="511.75" stroke="#231f20" stroke-width="1.1"/>
<text x="310.5" y="514.95" font-size="8.8" text-anchor="end" font-weight="normal" font-style="normal" fill="#231f20" >30</text>
<line x1="313.20000000000005" y1="475.25" x2="316.6" y2="475.25" stroke="#231f20" stroke-width="1.1"/>
<text x="310.5" y="478.45" font-size="8.8" text-anchor="end" font-weight="normal" font-style="normal" fill="#231f20" >40</text>
<line x1="315.9" y1="621.25" x2="388.5" y2="621.25" stroke="#231f20" stroke-width="1.35"/>
<line x1="337.3" y1="621.25" x2="337.3" y2="624.25" stroke="#231f20" stroke-width="1.1"/>
<line x1="368.4" y1="621.25" x2="368.4" y2="624.25" stroke="#231f20" stroke-width="1.1"/>
<text transform="translate(292.6,547.2) rotate(-90)" x="0" y="0" font-size="9.40" text-anchor="middle" textLength="52.6" lengthAdjust="spacingAndGlyphs" fill="#231f20" stroke="#231f20" stroke-width="0.22">Lag time (mins)</text>
<rect x="328.0" y="555.8" width="17.600000000000023" height="64.80000000000007" fill="#e38b7b"/>
<rect x="359.0" y="530.4" width="18.5" height="90.20000000000005" fill="#e38b7b"/>
<line x1="337.3" y1="533.1" x2="337.3" y2="574.2" stroke="#333" stroke-width="1.1"/>
<line x1="334.1" y1="574.2" x2="340.5" y2="574.2" stroke="#333" stroke-width="1.1"/>
<circle cx="337.3" cy="533.1" r="2.6" fill="#c5132f" stroke="#9e0c22" stroke-width="0.9"/>
<circle cx="337.3" cy="560.8" r="2.6" fill="#c5132f" stroke="#9e0c22" stroke-width="0.9"/>
<circle cx="337.3" cy="570.5" r="2.6" fill="#c5132f" stroke="#9e0c22" stroke-width="0.9"/>
<line x1="368.4" y1="499.2" x2="368.4" y2="560.3" stroke="#333" stroke-width="1.1"/>
<line x1="364.79999999999995" y1="499.2" x2="372.0" y2="499.2" stroke="#333" stroke-width="1.1"/>
<line x1="364.79999999999995" y1="560.3" x2="372.0" y2="560.3" stroke="#333" stroke-width="1.1"/>
<circle cx="368.4" cy="507.7" r="2.5" fill="#fff" stroke="#b0122b" stroke-width="1.1"/>
<circle cx="368.4" cy="517.0" r="2.5" fill="#fff" stroke="#b0122b" stroke-width="1.1"/>
<circle cx="368.4" cy="563.1" r="2.5" fill="none" stroke="#b0122b" stroke-width="1.1"/>
<polyline points="337.0,492.0 337.0,484.6 368.4,484.6 368.4,492.0" fill="none" stroke="#3a3a3a" stroke-width="1.2"/>
<text x="352.7" y="480.4" font-size="8.4" text-anchor="middle" font-weight="normal" font-style="normal" fill="#231f20" >ns</text>
<text x="337.7" y="635.8" font-size="8.5" text-anchor="middle" font-weight="normal" font-style="normal" fill="#231f20" >IgG</text>
<text x="368.3" y="635.8" font-size="8.5" text-anchor="middle" font-weight="normal" font-style="normal" fill="#231f20" >Lana</text>
<line x1="332" y1="646.7" x2="378.2" y2="646.7" stroke="#333" stroke-width="1.3"/>
<text x="355.0" y="657.7" font-size="9.1" font-style="italic" text-anchor="middle" fill="#231f20">F12<tspan font-size="7.4" dy="-3.2">−/−</tspan></text>
<text x="406.0" y="462.8" font-size="12.6" text-anchor="start" font-weight="bold" font-style="normal" fill="#000" >G</text>
<line x1="439.6" y1="471.0" x2="439.6" y2="621.85" stroke="#231f20" stroke-width="1.35"/>
<line x1="436.20000000000005" y1="621.25" x2="439.6" y2="621.25" stroke="#231f20" stroke-width="1.1"/>
<text x="432.6" y="624.45" font-size="8.8" text-anchor="end" font-weight="normal" font-style="normal" fill="#231f20" >0</text>
<line x1="436.20000000000005" y1="584.5" x2="439.6" y2="584.5" stroke="#231f20" stroke-width="1.1"/>
<text x="432.6" y="587.7" font-size="8.8" text-anchor="end" font-weight="normal" font-style="normal" fill="#231f20" >20</text>
<line x1="436.20000000000005" y1="547.75" x2="439.6" y2="547.75" stroke="#231f20" stroke-width="1.1"/>
<text x="432.6" y="550.95" font-size="8.8" text-anchor="end" font-weight="normal" font-style="normal" fill="#231f20" >40</text>
<line x1="436.20000000000005" y1="511.0" x2="439.6" y2="511.0" stroke="#231f20" stroke-width="1.1"/>
<text x="432.6" y="514.2" font-size="8.8" text-anchor="end" font-weight="normal" font-style="normal" fill="#231f20" >60</text>
<line x1="436.20000000000005" y1="474.25" x2="439.6" y2="474.25" stroke="#231f20" stroke-width="1.1"/>
<text x="432.6" y="477.45" font-size="8.8" text-anchor="end" font-weight="normal" font-style="normal" fill="#231f20" >80</text>
<line x1="438.9" y1="621.25" x2="512" y2="621.25" stroke="#231f20" stroke-width="1.35"/>
<line x1="460.5" y1="621.25" x2="460.5" y2="624.25" stroke="#231f20" stroke-width="1.1"/>
<line x1="491.9" y1="621.25" x2="491.9" y2="624.25" stroke="#231f20" stroke-width="1.1"/>
<text transform="translate(415.0,546.5) rotate(-90)" x="0" y="0" font-size="9.40" text-anchor="middle" textLength="57.9" lengthAdjust="spacingAndGlyphs" fill="#231f20" stroke="#231f20" stroke-width="0.22">Peak height (nM)</text>
<rect x="451.3" y="571.2" width="18.399999999999977" height="49.39999999999998" fill="#e38b7b"/>
<rect x="482.7" y="598.2" width="18.5" height="22.399999999999977" fill="#e38b7b"/>
<line x1="460.5" y1="561.9" x2="460.5" y2="577.6" stroke="#333" stroke-width="1.1"/>
<line x1="457.5" y1="561.9" x2="463.5" y2="561.9" stroke="#333" stroke-width="1.1"/>
<line x1="457.5" y1="577.6" x2="463.5" y2="577.6" stroke="#333" stroke-width="1.1"/>
<circle cx="460.5" cy="561.9" r="2.6" fill="#c5132f" stroke="#9e0c22" stroke-width="0.9"/>
<circle cx="455.0" cy="576.3" r="2.6" fill="#c5132f" stroke="#9e0c22" stroke-width="0.9"/>
<circle cx="465.8" cy="573.5" r="2.6" fill="#c5132f" stroke="#9e0c22" stroke-width="0.9"/>
<line x1="491.9" y1="588.5" x2="491.9" y2="604.7" stroke="#333" stroke-width="1.1"/>
<line x1="489.4" y1="588.5" x2="494.4" y2="588.5" stroke="#333" stroke-width="1.1"/>
<line x1="489.4" y1="604.7" x2="494.4" y2="604.7" stroke="#333" stroke-width="1.1"/>
<circle cx="491.9" cy="588.5" r="2.5" fill="none" stroke="#b0122b" stroke-width="1.1"/>
<circle cx="491.9" cy="596.6" r="2.5" fill="none" stroke="#b0122b" stroke-width="1.1"/>
<circle cx="491.9" cy="604.7" r="2.5" fill="none" stroke="#b0122b" stroke-width="1.1"/>
<polyline points="460.5,547.4 460.5,540.0 492.4,540.0 492.4,547.4" fill="none" stroke="#3a3a3a" stroke-width="1.2"/>
<text x="476.2" y="538.5" font-size="8.4" text-anchor="middle" font-weight="normal" font-style="normal" fill="#231f20" >*</text>
<text x="461.2" y="635.8" font-size="8.5" text-anchor="middle" font-weight="normal" font-style="normal" fill="#231f20" >IgG</text>
<text x="491.9" y="635.8" font-size="8.5" text-anchor="middle" font-weight="normal" font-style="normal" fill="#231f20" >Lana</text>
<line x1="455" y1="646.7" x2="500.9" y2="646.7" stroke="#333" stroke-width="1.3"/>
<text x="478.5" y="657.7" font-size="9.1" font-style="italic" text-anchor="middle" fill="#231f20">F12<tspan font-size="7.4" dy="-3.2">−/−</tspan></text>
<rect x="0.5" y="0.5" width="519" height="668" fill="none" stroke="#424242" stroke-width="1"/>
</svg>
</body></html>
